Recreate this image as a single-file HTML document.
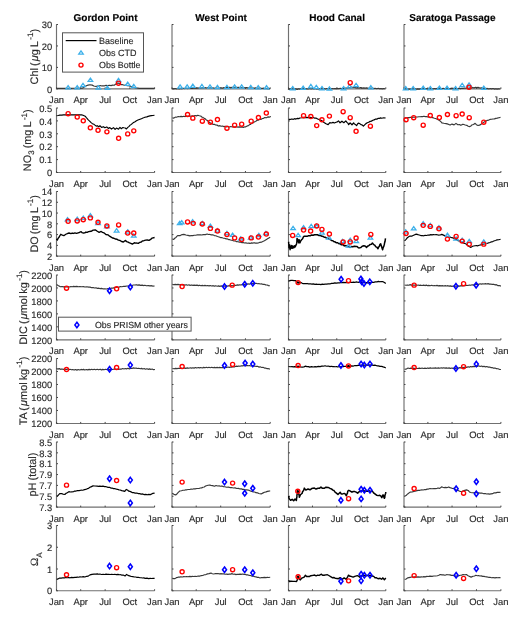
<!DOCTYPE html>
<html><head><meta charset="utf-8"><style>
html,body{margin:0;padding:0;background:#fff;}
svg{display:block;will-change:transform;text-rendering:geometricPrecision;font-family:"Liberation Sans",sans-serif;}
</style></head><body>
<svg width="520" height="618" viewBox="0 0 520 618">
<rect width="520" height="618" fill="#fff"/>
<path d="M56.50 24.20 V88.85 H154.60" fill="none" stroke="#707070" stroke-width="1.15"/>
<path d="M56.50 88.85 h1.5" stroke="#444" stroke-width="1"/>
<text x="52.20" y="92.55" font-size="9.40" text-anchor="end" font-weight="normal" fill="#2a2a2a" stroke="#2a2a2a" stroke-width="0.15" >0</text>
<path d="M56.50 67.40 h1.5" stroke="#444" stroke-width="1"/>
<text x="52.20" y="71.10" font-size="9.40" text-anchor="end" font-weight="normal" fill="#2a2a2a" stroke="#2a2a2a" stroke-width="0.15" >10</text>
<path d="M56.50 45.95 h1.5" stroke="#444" stroke-width="1"/>
<text x="52.20" y="49.65" font-size="9.40" text-anchor="end" font-weight="normal" fill="#2a2a2a" stroke="#2a2a2a" stroke-width="0.15" >20</text>
<path d="M56.50 24.50 h1.5" stroke="#444" stroke-width="1"/>
<text x="52.20" y="28.20" font-size="9.40" text-anchor="end" font-weight="normal" fill="#2a2a2a" stroke="#2a2a2a" stroke-width="0.15" >30</text>
<path d="M56.50 88.85 v-1.5" stroke="#444" stroke-width="1"/>
<text x="56.50" y="103.35" font-size="9.40" text-anchor="middle" font-weight="normal" fill="#2a2a2a" stroke="#2a2a2a" stroke-width="0.15" >Jan</text>
<path d="M80.69 88.85 v-1.5" stroke="#444" stroke-width="1"/>
<text x="80.69" y="103.35" font-size="9.40" text-anchor="middle" font-weight="normal" fill="#2a2a2a" stroke="#2a2a2a" stroke-width="0.15" >Apr</text>
<path d="M105.15 88.85 v-1.5" stroke="#444" stroke-width="1"/>
<text x="105.15" y="103.35" font-size="9.40" text-anchor="middle" font-weight="normal" fill="#2a2a2a" stroke="#2a2a2a" stroke-width="0.15" >Jul</text>
<path d="M129.87 88.85 v-1.5" stroke="#444" stroke-width="1"/>
<text x="129.87" y="103.35" font-size="9.40" text-anchor="middle" font-weight="normal" fill="#2a2a2a" stroke="#2a2a2a" stroke-width="0.15" >Oct</text>
<path d="M154.60 88.85 v-1.5" stroke="#444" stroke-width="1"/>
<text x="154.60" y="103.35" font-size="9.40" text-anchor="middle" font-weight="normal" fill="#2a2a2a" stroke="#2a2a2a" stroke-width="0.15" >Jan</text>
<path d="M172.00 24.20 V88.85 H270.20" fill="none" stroke="#707070" stroke-width="1.15"/>
<path d="M172.00 88.85 h1.5" stroke="#444" stroke-width="1"/>
<path d="M172.00 67.40 h1.5" stroke="#444" stroke-width="1"/>
<path d="M172.00 45.95 h1.5" stroke="#444" stroke-width="1"/>
<path d="M172.00 24.50 h1.5" stroke="#444" stroke-width="1"/>
<path d="M172.00 88.85 v-1.5" stroke="#444" stroke-width="1"/>
<text x="172.00" y="103.35" font-size="9.40" text-anchor="middle" font-weight="normal" fill="#2a2a2a" stroke="#2a2a2a" stroke-width="0.15" >Jan</text>
<path d="M196.21 88.85 v-1.5" stroke="#444" stroke-width="1"/>
<text x="196.21" y="103.35" font-size="9.40" text-anchor="middle" font-weight="normal" fill="#2a2a2a" stroke="#2a2a2a" stroke-width="0.15" >Apr</text>
<path d="M220.70 88.85 v-1.5" stroke="#444" stroke-width="1"/>
<text x="220.70" y="103.35" font-size="9.40" text-anchor="middle" font-weight="normal" fill="#2a2a2a" stroke="#2a2a2a" stroke-width="0.15" >Jul</text>
<path d="M245.45 88.85 v-1.5" stroke="#444" stroke-width="1"/>
<text x="245.45" y="103.35" font-size="9.40" text-anchor="middle" font-weight="normal" fill="#2a2a2a" stroke="#2a2a2a" stroke-width="0.15" >Oct</text>
<path d="M270.20 88.85 v-1.5" stroke="#444" stroke-width="1"/>
<text x="270.20" y="103.35" font-size="9.40" text-anchor="middle" font-weight="normal" fill="#2a2a2a" stroke="#2a2a2a" stroke-width="0.15" >Jan</text>
<path d="M288.50 24.20 V88.85 H385.80" fill="none" stroke="#707070" stroke-width="1.15"/>
<path d="M288.50 88.85 h1.5" stroke="#444" stroke-width="1"/>
<path d="M288.50 67.40 h1.5" stroke="#444" stroke-width="1"/>
<path d="M288.50 45.95 h1.5" stroke="#444" stroke-width="1"/>
<path d="M288.50 24.50 h1.5" stroke="#444" stroke-width="1"/>
<path d="M288.50 88.85 v-1.5" stroke="#444" stroke-width="1"/>
<text x="288.50" y="103.35" font-size="9.40" text-anchor="middle" font-weight="normal" fill="#2a2a2a" stroke="#2a2a2a" stroke-width="0.15" >Jan</text>
<path d="M312.49 88.85 v-1.5" stroke="#444" stroke-width="1"/>
<text x="312.49" y="103.35" font-size="9.40" text-anchor="middle" font-weight="normal" fill="#2a2a2a" stroke="#2a2a2a" stroke-width="0.15" >Apr</text>
<path d="M336.75 88.85 v-1.5" stroke="#444" stroke-width="1"/>
<text x="336.75" y="103.35" font-size="9.40" text-anchor="middle" font-weight="normal" fill="#2a2a2a" stroke="#2a2a2a" stroke-width="0.15" >Jul</text>
<path d="M361.28 88.85 v-1.5" stroke="#444" stroke-width="1"/>
<text x="361.28" y="103.35" font-size="9.40" text-anchor="middle" font-weight="normal" fill="#2a2a2a" stroke="#2a2a2a" stroke-width="0.15" >Oct</text>
<path d="M385.80 88.85 v-1.5" stroke="#444" stroke-width="1"/>
<text x="385.80" y="103.35" font-size="9.40" text-anchor="middle" font-weight="normal" fill="#2a2a2a" stroke="#2a2a2a" stroke-width="0.15" >Jan</text>
<path d="M404.00 24.20 V88.85 H500.90" fill="none" stroke="#707070" stroke-width="1.15"/>
<path d="M404.00 88.85 h1.5" stroke="#444" stroke-width="1"/>
<path d="M404.00 67.40 h1.5" stroke="#444" stroke-width="1"/>
<path d="M404.00 45.95 h1.5" stroke="#444" stroke-width="1"/>
<path d="M404.00 24.50 h1.5" stroke="#444" stroke-width="1"/>
<path d="M404.00 88.85 v-1.5" stroke="#444" stroke-width="1"/>
<text x="404.00" y="103.35" font-size="9.40" text-anchor="middle" font-weight="normal" fill="#2a2a2a" stroke="#2a2a2a" stroke-width="0.15" >Jan</text>
<path d="M427.89 88.85 v-1.5" stroke="#444" stroke-width="1"/>
<text x="427.89" y="103.35" font-size="9.40" text-anchor="middle" font-weight="normal" fill="#2a2a2a" stroke="#2a2a2a" stroke-width="0.15" >Apr</text>
<path d="M452.05 88.85 v-1.5" stroke="#444" stroke-width="1"/>
<text x="452.05" y="103.35" font-size="9.40" text-anchor="middle" font-weight="normal" fill="#2a2a2a" stroke="#2a2a2a" stroke-width="0.15" >Jul</text>
<path d="M476.48 88.85 v-1.5" stroke="#444" stroke-width="1"/>
<text x="476.48" y="103.35" font-size="9.40" text-anchor="middle" font-weight="normal" fill="#2a2a2a" stroke="#2a2a2a" stroke-width="0.15" >Oct</text>
<path d="M500.90 88.85 v-1.5" stroke="#444" stroke-width="1"/>
<text x="500.90" y="103.35" font-size="9.40" text-anchor="middle" font-weight="normal" fill="#2a2a2a" stroke="#2a2a2a" stroke-width="0.15" >Jan</text>
<path d="M56.50 107.70 V172.50 H154.60" fill="none" stroke="#707070" stroke-width="1.15"/>
<path d="M56.50 172.50 h1.5" stroke="#444" stroke-width="1"/>
<text x="52.20" y="176.20" font-size="9.40" text-anchor="end" font-weight="normal" fill="#2a2a2a" stroke="#2a2a2a" stroke-width="0.15" >0</text>
<path d="M56.50 159.60 h1.5" stroke="#444" stroke-width="1"/>
<text x="52.20" y="163.30" font-size="9.40" text-anchor="end" font-weight="normal" fill="#2a2a2a" stroke="#2a2a2a" stroke-width="0.15" >0.1</text>
<path d="M56.50 146.70 h1.5" stroke="#444" stroke-width="1"/>
<text x="52.20" y="150.40" font-size="9.40" text-anchor="end" font-weight="normal" fill="#2a2a2a" stroke="#2a2a2a" stroke-width="0.15" >0.2</text>
<path d="M56.50 133.80 h1.5" stroke="#444" stroke-width="1"/>
<text x="52.20" y="137.50" font-size="9.40" text-anchor="end" font-weight="normal" fill="#2a2a2a" stroke="#2a2a2a" stroke-width="0.15" >0.3</text>
<path d="M56.50 120.90 h1.5" stroke="#444" stroke-width="1"/>
<text x="52.20" y="124.60" font-size="9.40" text-anchor="end" font-weight="normal" fill="#2a2a2a" stroke="#2a2a2a" stroke-width="0.15" >0.4</text>
<path d="M56.50 108.00 h1.5" stroke="#444" stroke-width="1"/>
<text x="52.20" y="111.70" font-size="9.40" text-anchor="end" font-weight="normal" fill="#2a2a2a" stroke="#2a2a2a" stroke-width="0.15" >0.5</text>
<path d="M56.50 172.50 v-1.5" stroke="#444" stroke-width="1"/>
<text x="56.50" y="187.00" font-size="9.40" text-anchor="middle" font-weight="normal" fill="#2a2a2a" stroke="#2a2a2a" stroke-width="0.15" >Jan</text>
<path d="M80.69 172.50 v-1.5" stroke="#444" stroke-width="1"/>
<text x="80.69" y="187.00" font-size="9.40" text-anchor="middle" font-weight="normal" fill="#2a2a2a" stroke="#2a2a2a" stroke-width="0.15" >Apr</text>
<path d="M105.15 172.50 v-1.5" stroke="#444" stroke-width="1"/>
<text x="105.15" y="187.00" font-size="9.40" text-anchor="middle" font-weight="normal" fill="#2a2a2a" stroke="#2a2a2a" stroke-width="0.15" >Jul</text>
<path d="M129.87 172.50 v-1.5" stroke="#444" stroke-width="1"/>
<text x="129.87" y="187.00" font-size="9.40" text-anchor="middle" font-weight="normal" fill="#2a2a2a" stroke="#2a2a2a" stroke-width="0.15" >Oct</text>
<path d="M154.60 172.50 v-1.5" stroke="#444" stroke-width="1"/>
<text x="154.60" y="187.00" font-size="9.40" text-anchor="middle" font-weight="normal" fill="#2a2a2a" stroke="#2a2a2a" stroke-width="0.15" >Jan</text>
<path d="M172.00 107.70 V172.50 H270.20" fill="none" stroke="#707070" stroke-width="1.15"/>
<path d="M172.00 172.50 h1.5" stroke="#444" stroke-width="1"/>
<path d="M172.00 159.60 h1.5" stroke="#444" stroke-width="1"/>
<path d="M172.00 146.70 h1.5" stroke="#444" stroke-width="1"/>
<path d="M172.00 133.80 h1.5" stroke="#444" stroke-width="1"/>
<path d="M172.00 120.90 h1.5" stroke="#444" stroke-width="1"/>
<path d="M172.00 108.00 h1.5" stroke="#444" stroke-width="1"/>
<path d="M172.00 172.50 v-1.5" stroke="#444" stroke-width="1"/>
<text x="172.00" y="187.00" font-size="9.40" text-anchor="middle" font-weight="normal" fill="#2a2a2a" stroke="#2a2a2a" stroke-width="0.15" >Jan</text>
<path d="M196.21 172.50 v-1.5" stroke="#444" stroke-width="1"/>
<text x="196.21" y="187.00" font-size="9.40" text-anchor="middle" font-weight="normal" fill="#2a2a2a" stroke="#2a2a2a" stroke-width="0.15" >Apr</text>
<path d="M220.70 172.50 v-1.5" stroke="#444" stroke-width="1"/>
<text x="220.70" y="187.00" font-size="9.40" text-anchor="middle" font-weight="normal" fill="#2a2a2a" stroke="#2a2a2a" stroke-width="0.15" >Jul</text>
<path d="M245.45 172.50 v-1.5" stroke="#444" stroke-width="1"/>
<text x="245.45" y="187.00" font-size="9.40" text-anchor="middle" font-weight="normal" fill="#2a2a2a" stroke="#2a2a2a" stroke-width="0.15" >Oct</text>
<path d="M270.20 172.50 v-1.5" stroke="#444" stroke-width="1"/>
<text x="270.20" y="187.00" font-size="9.40" text-anchor="middle" font-weight="normal" fill="#2a2a2a" stroke="#2a2a2a" stroke-width="0.15" >Jan</text>
<path d="M288.50 107.70 V172.50 H385.80" fill="none" stroke="#707070" stroke-width="1.15"/>
<path d="M288.50 172.50 h1.5" stroke="#444" stroke-width="1"/>
<path d="M288.50 159.60 h1.5" stroke="#444" stroke-width="1"/>
<path d="M288.50 146.70 h1.5" stroke="#444" stroke-width="1"/>
<path d="M288.50 133.80 h1.5" stroke="#444" stroke-width="1"/>
<path d="M288.50 120.90 h1.5" stroke="#444" stroke-width="1"/>
<path d="M288.50 108.00 h1.5" stroke="#444" stroke-width="1"/>
<path d="M288.50 172.50 v-1.5" stroke="#444" stroke-width="1"/>
<text x="288.50" y="187.00" font-size="9.40" text-anchor="middle" font-weight="normal" fill="#2a2a2a" stroke="#2a2a2a" stroke-width="0.15" >Jan</text>
<path d="M312.49 172.50 v-1.5" stroke="#444" stroke-width="1"/>
<text x="312.49" y="187.00" font-size="9.40" text-anchor="middle" font-weight="normal" fill="#2a2a2a" stroke="#2a2a2a" stroke-width="0.15" >Apr</text>
<path d="M336.75 172.50 v-1.5" stroke="#444" stroke-width="1"/>
<text x="336.75" y="187.00" font-size="9.40" text-anchor="middle" font-weight="normal" fill="#2a2a2a" stroke="#2a2a2a" stroke-width="0.15" >Jul</text>
<path d="M361.28 172.50 v-1.5" stroke="#444" stroke-width="1"/>
<text x="361.28" y="187.00" font-size="9.40" text-anchor="middle" font-weight="normal" fill="#2a2a2a" stroke="#2a2a2a" stroke-width="0.15" >Oct</text>
<path d="M385.80 172.50 v-1.5" stroke="#444" stroke-width="1"/>
<text x="385.80" y="187.00" font-size="9.40" text-anchor="middle" font-weight="normal" fill="#2a2a2a" stroke="#2a2a2a" stroke-width="0.15" >Jan</text>
<path d="M404.00 107.70 V172.50 H500.90" fill="none" stroke="#707070" stroke-width="1.15"/>
<path d="M404.00 172.50 h1.5" stroke="#444" stroke-width="1"/>
<path d="M404.00 159.60 h1.5" stroke="#444" stroke-width="1"/>
<path d="M404.00 146.70 h1.5" stroke="#444" stroke-width="1"/>
<path d="M404.00 133.80 h1.5" stroke="#444" stroke-width="1"/>
<path d="M404.00 120.90 h1.5" stroke="#444" stroke-width="1"/>
<path d="M404.00 108.00 h1.5" stroke="#444" stroke-width="1"/>
<path d="M404.00 172.50 v-1.5" stroke="#444" stroke-width="1"/>
<text x="404.00" y="187.00" font-size="9.40" text-anchor="middle" font-weight="normal" fill="#2a2a2a" stroke="#2a2a2a" stroke-width="0.15" >Jan</text>
<path d="M427.89 172.50 v-1.5" stroke="#444" stroke-width="1"/>
<text x="427.89" y="187.00" font-size="9.40" text-anchor="middle" font-weight="normal" fill="#2a2a2a" stroke="#2a2a2a" stroke-width="0.15" >Apr</text>
<path d="M452.05 172.50 v-1.5" stroke="#444" stroke-width="1"/>
<text x="452.05" y="187.00" font-size="9.40" text-anchor="middle" font-weight="normal" fill="#2a2a2a" stroke="#2a2a2a" stroke-width="0.15" >Jul</text>
<path d="M476.48 172.50 v-1.5" stroke="#444" stroke-width="1"/>
<text x="476.48" y="187.00" font-size="9.40" text-anchor="middle" font-weight="normal" fill="#2a2a2a" stroke="#2a2a2a" stroke-width="0.15" >Oct</text>
<path d="M500.90 172.50 v-1.5" stroke="#444" stroke-width="1"/>
<text x="500.90" y="187.00" font-size="9.40" text-anchor="middle" font-weight="normal" fill="#2a2a2a" stroke="#2a2a2a" stroke-width="0.15" >Jan</text>
<path d="M56.50 191.20 V256.15 H154.60" fill="none" stroke="#707070" stroke-width="1.15"/>
<path d="M56.50 256.15 h1.5" stroke="#444" stroke-width="1"/>
<text x="52.20" y="259.85" font-size="9.40" text-anchor="end" font-weight="normal" fill="#2a2a2a" stroke="#2a2a2a" stroke-width="0.15" >2</text>
<path d="M56.50 245.37 h1.5" stroke="#444" stroke-width="1"/>
<text x="52.20" y="249.07" font-size="9.40" text-anchor="end" font-weight="normal" fill="#2a2a2a" stroke="#2a2a2a" stroke-width="0.15" >4</text>
<path d="M56.50 234.60 h1.5" stroke="#444" stroke-width="1"/>
<text x="52.20" y="238.30" font-size="9.40" text-anchor="end" font-weight="normal" fill="#2a2a2a" stroke="#2a2a2a" stroke-width="0.15" >6</text>
<path d="M56.50 223.82 h1.5" stroke="#444" stroke-width="1"/>
<text x="52.20" y="227.52" font-size="9.40" text-anchor="end" font-weight="normal" fill="#2a2a2a" stroke="#2a2a2a" stroke-width="0.15" >8</text>
<path d="M56.50 213.05 h1.5" stroke="#444" stroke-width="1"/>
<text x="52.20" y="216.75" font-size="9.40" text-anchor="end" font-weight="normal" fill="#2a2a2a" stroke="#2a2a2a" stroke-width="0.15" >10</text>
<path d="M56.50 202.28 h1.5" stroke="#444" stroke-width="1"/>
<text x="52.20" y="205.97" font-size="9.40" text-anchor="end" font-weight="normal" fill="#2a2a2a" stroke="#2a2a2a" stroke-width="0.15" >12</text>
<path d="M56.50 191.50 h1.5" stroke="#444" stroke-width="1"/>
<text x="52.20" y="195.20" font-size="9.40" text-anchor="end" font-weight="normal" fill="#2a2a2a" stroke="#2a2a2a" stroke-width="0.15" >14</text>
<path d="M56.50 256.15 v-1.5" stroke="#444" stroke-width="1"/>
<text x="56.50" y="270.65" font-size="9.40" text-anchor="middle" font-weight="normal" fill="#2a2a2a" stroke="#2a2a2a" stroke-width="0.15" >Jan</text>
<path d="M80.69 256.15 v-1.5" stroke="#444" stroke-width="1"/>
<text x="80.69" y="270.65" font-size="9.40" text-anchor="middle" font-weight="normal" fill="#2a2a2a" stroke="#2a2a2a" stroke-width="0.15" >Apr</text>
<path d="M105.15 256.15 v-1.5" stroke="#444" stroke-width="1"/>
<text x="105.15" y="270.65" font-size="9.40" text-anchor="middle" font-weight="normal" fill="#2a2a2a" stroke="#2a2a2a" stroke-width="0.15" >Jul</text>
<path d="M129.87 256.15 v-1.5" stroke="#444" stroke-width="1"/>
<text x="129.87" y="270.65" font-size="9.40" text-anchor="middle" font-weight="normal" fill="#2a2a2a" stroke="#2a2a2a" stroke-width="0.15" >Oct</text>
<path d="M154.60 256.15 v-1.5" stroke="#444" stroke-width="1"/>
<text x="154.60" y="270.65" font-size="9.40" text-anchor="middle" font-weight="normal" fill="#2a2a2a" stroke="#2a2a2a" stroke-width="0.15" >Jan</text>
<path d="M172.00 191.20 V256.15 H270.20" fill="none" stroke="#707070" stroke-width="1.15"/>
<path d="M172.00 256.15 h1.5" stroke="#444" stroke-width="1"/>
<path d="M172.00 245.37 h1.5" stroke="#444" stroke-width="1"/>
<path d="M172.00 234.60 h1.5" stroke="#444" stroke-width="1"/>
<path d="M172.00 223.82 h1.5" stroke="#444" stroke-width="1"/>
<path d="M172.00 213.05 h1.5" stroke="#444" stroke-width="1"/>
<path d="M172.00 202.28 h1.5" stroke="#444" stroke-width="1"/>
<path d="M172.00 191.50 h1.5" stroke="#444" stroke-width="1"/>
<path d="M172.00 256.15 v-1.5" stroke="#444" stroke-width="1"/>
<text x="172.00" y="270.65" font-size="9.40" text-anchor="middle" font-weight="normal" fill="#2a2a2a" stroke="#2a2a2a" stroke-width="0.15" >Jan</text>
<path d="M196.21 256.15 v-1.5" stroke="#444" stroke-width="1"/>
<text x="196.21" y="270.65" font-size="9.40" text-anchor="middle" font-weight="normal" fill="#2a2a2a" stroke="#2a2a2a" stroke-width="0.15" >Apr</text>
<path d="M220.70 256.15 v-1.5" stroke="#444" stroke-width="1"/>
<text x="220.70" y="270.65" font-size="9.40" text-anchor="middle" font-weight="normal" fill="#2a2a2a" stroke="#2a2a2a" stroke-width="0.15" >Jul</text>
<path d="M245.45 256.15 v-1.5" stroke="#444" stroke-width="1"/>
<text x="245.45" y="270.65" font-size="9.40" text-anchor="middle" font-weight="normal" fill="#2a2a2a" stroke="#2a2a2a" stroke-width="0.15" >Oct</text>
<path d="M270.20 256.15 v-1.5" stroke="#444" stroke-width="1"/>
<text x="270.20" y="270.65" font-size="9.40" text-anchor="middle" font-weight="normal" fill="#2a2a2a" stroke="#2a2a2a" stroke-width="0.15" >Jan</text>
<path d="M288.50 191.20 V256.15 H385.80" fill="none" stroke="#707070" stroke-width="1.15"/>
<path d="M288.50 256.15 h1.5" stroke="#444" stroke-width="1"/>
<path d="M288.50 245.37 h1.5" stroke="#444" stroke-width="1"/>
<path d="M288.50 234.60 h1.5" stroke="#444" stroke-width="1"/>
<path d="M288.50 223.82 h1.5" stroke="#444" stroke-width="1"/>
<path d="M288.50 213.05 h1.5" stroke="#444" stroke-width="1"/>
<path d="M288.50 202.28 h1.5" stroke="#444" stroke-width="1"/>
<path d="M288.50 191.50 h1.5" stroke="#444" stroke-width="1"/>
<path d="M288.50 256.15 v-1.5" stroke="#444" stroke-width="1"/>
<text x="288.50" y="270.65" font-size="9.40" text-anchor="middle" font-weight="normal" fill="#2a2a2a" stroke="#2a2a2a" stroke-width="0.15" >Jan</text>
<path d="M312.49 256.15 v-1.5" stroke="#444" stroke-width="1"/>
<text x="312.49" y="270.65" font-size="9.40" text-anchor="middle" font-weight="normal" fill="#2a2a2a" stroke="#2a2a2a" stroke-width="0.15" >Apr</text>
<path d="M336.75 256.15 v-1.5" stroke="#444" stroke-width="1"/>
<text x="336.75" y="270.65" font-size="9.40" text-anchor="middle" font-weight="normal" fill="#2a2a2a" stroke="#2a2a2a" stroke-width="0.15" >Jul</text>
<path d="M361.28 256.15 v-1.5" stroke="#444" stroke-width="1"/>
<text x="361.28" y="270.65" font-size="9.40" text-anchor="middle" font-weight="normal" fill="#2a2a2a" stroke="#2a2a2a" stroke-width="0.15" >Oct</text>
<path d="M385.80 256.15 v-1.5" stroke="#444" stroke-width="1"/>
<text x="385.80" y="270.65" font-size="9.40" text-anchor="middle" font-weight="normal" fill="#2a2a2a" stroke="#2a2a2a" stroke-width="0.15" >Jan</text>
<path d="M404.00 191.20 V256.15 H500.90" fill="none" stroke="#707070" stroke-width="1.15"/>
<path d="M404.00 256.15 h1.5" stroke="#444" stroke-width="1"/>
<path d="M404.00 245.37 h1.5" stroke="#444" stroke-width="1"/>
<path d="M404.00 234.60 h1.5" stroke="#444" stroke-width="1"/>
<path d="M404.00 223.82 h1.5" stroke="#444" stroke-width="1"/>
<path d="M404.00 213.05 h1.5" stroke="#444" stroke-width="1"/>
<path d="M404.00 202.28 h1.5" stroke="#444" stroke-width="1"/>
<path d="M404.00 191.50 h1.5" stroke="#444" stroke-width="1"/>
<path d="M404.00 256.15 v-1.5" stroke="#444" stroke-width="1"/>
<text x="404.00" y="270.65" font-size="9.40" text-anchor="middle" font-weight="normal" fill="#2a2a2a" stroke="#2a2a2a" stroke-width="0.15" >Jan</text>
<path d="M427.89 256.15 v-1.5" stroke="#444" stroke-width="1"/>
<text x="427.89" y="270.65" font-size="9.40" text-anchor="middle" font-weight="normal" fill="#2a2a2a" stroke="#2a2a2a" stroke-width="0.15" >Apr</text>
<path d="M452.05 256.15 v-1.5" stroke="#444" stroke-width="1"/>
<text x="452.05" y="270.65" font-size="9.40" text-anchor="middle" font-weight="normal" fill="#2a2a2a" stroke="#2a2a2a" stroke-width="0.15" >Jul</text>
<path d="M476.48 256.15 v-1.5" stroke="#444" stroke-width="1"/>
<text x="476.48" y="270.65" font-size="9.40" text-anchor="middle" font-weight="normal" fill="#2a2a2a" stroke="#2a2a2a" stroke-width="0.15" >Oct</text>
<path d="M500.90 256.15 v-1.5" stroke="#444" stroke-width="1"/>
<text x="500.90" y="270.65" font-size="9.40" text-anchor="middle" font-weight="normal" fill="#2a2a2a" stroke="#2a2a2a" stroke-width="0.15" >Jan</text>
<path d="M56.50 274.70 V339.80 H154.60" fill="none" stroke="#707070" stroke-width="1.15"/>
<path d="M56.50 339.80 h1.5" stroke="#444" stroke-width="1"/>
<text x="52.20" y="343.50" font-size="9.40" text-anchor="end" font-weight="normal" fill="#2a2a2a" stroke="#2a2a2a" stroke-width="0.15" >1200</text>
<path d="M56.50 326.84 h1.5" stroke="#444" stroke-width="1"/>
<text x="52.20" y="330.54" font-size="9.40" text-anchor="end" font-weight="normal" fill="#2a2a2a" stroke="#2a2a2a" stroke-width="0.15" >1400</text>
<path d="M56.50 313.88 h1.5" stroke="#444" stroke-width="1"/>
<text x="52.20" y="317.58" font-size="9.40" text-anchor="end" font-weight="normal" fill="#2a2a2a" stroke="#2a2a2a" stroke-width="0.15" >1600</text>
<path d="M56.50 300.92 h1.5" stroke="#444" stroke-width="1"/>
<text x="52.20" y="304.62" font-size="9.40" text-anchor="end" font-weight="normal" fill="#2a2a2a" stroke="#2a2a2a" stroke-width="0.15" >1800</text>
<path d="M56.50 287.96 h1.5" stroke="#444" stroke-width="1"/>
<text x="52.20" y="291.66" font-size="9.40" text-anchor="end" font-weight="normal" fill="#2a2a2a" stroke="#2a2a2a" stroke-width="0.15" >2000</text>
<path d="M56.50 275.00 h1.5" stroke="#444" stroke-width="1"/>
<text x="52.20" y="278.70" font-size="9.40" text-anchor="end" font-weight="normal" fill="#2a2a2a" stroke="#2a2a2a" stroke-width="0.15" >2200</text>
<path d="M56.50 339.80 v-1.5" stroke="#444" stroke-width="1"/>
<text x="56.50" y="354.30" font-size="9.40" text-anchor="middle" font-weight="normal" fill="#2a2a2a" stroke="#2a2a2a" stroke-width="0.15" >Jan</text>
<path d="M80.69 339.80 v-1.5" stroke="#444" stroke-width="1"/>
<text x="80.69" y="354.30" font-size="9.40" text-anchor="middle" font-weight="normal" fill="#2a2a2a" stroke="#2a2a2a" stroke-width="0.15" >Apr</text>
<path d="M105.15 339.80 v-1.5" stroke="#444" stroke-width="1"/>
<text x="105.15" y="354.30" font-size="9.40" text-anchor="middle" font-weight="normal" fill="#2a2a2a" stroke="#2a2a2a" stroke-width="0.15" >Jul</text>
<path d="M129.87 339.80 v-1.5" stroke="#444" stroke-width="1"/>
<text x="129.87" y="354.30" font-size="9.40" text-anchor="middle" font-weight="normal" fill="#2a2a2a" stroke="#2a2a2a" stroke-width="0.15" >Oct</text>
<path d="M154.60 339.80 v-1.5" stroke="#444" stroke-width="1"/>
<text x="154.60" y="354.30" font-size="9.40" text-anchor="middle" font-weight="normal" fill="#2a2a2a" stroke="#2a2a2a" stroke-width="0.15" >Jan</text>
<path d="M172.00 274.70 V339.80 H270.20" fill="none" stroke="#707070" stroke-width="1.15"/>
<path d="M172.00 339.80 h1.5" stroke="#444" stroke-width="1"/>
<path d="M172.00 326.84 h1.5" stroke="#444" stroke-width="1"/>
<path d="M172.00 313.88 h1.5" stroke="#444" stroke-width="1"/>
<path d="M172.00 300.92 h1.5" stroke="#444" stroke-width="1"/>
<path d="M172.00 287.96 h1.5" stroke="#444" stroke-width="1"/>
<path d="M172.00 275.00 h1.5" stroke="#444" stroke-width="1"/>
<path d="M172.00 339.80 v-1.5" stroke="#444" stroke-width="1"/>
<text x="172.00" y="354.30" font-size="9.40" text-anchor="middle" font-weight="normal" fill="#2a2a2a" stroke="#2a2a2a" stroke-width="0.15" >Jan</text>
<path d="M196.21 339.80 v-1.5" stroke="#444" stroke-width="1"/>
<text x="196.21" y="354.30" font-size="9.40" text-anchor="middle" font-weight="normal" fill="#2a2a2a" stroke="#2a2a2a" stroke-width="0.15" >Apr</text>
<path d="M220.70 339.80 v-1.5" stroke="#444" stroke-width="1"/>
<text x="220.70" y="354.30" font-size="9.40" text-anchor="middle" font-weight="normal" fill="#2a2a2a" stroke="#2a2a2a" stroke-width="0.15" >Jul</text>
<path d="M245.45 339.80 v-1.5" stroke="#444" stroke-width="1"/>
<text x="245.45" y="354.30" font-size="9.40" text-anchor="middle" font-weight="normal" fill="#2a2a2a" stroke="#2a2a2a" stroke-width="0.15" >Oct</text>
<path d="M270.20 339.80 v-1.5" stroke="#444" stroke-width="1"/>
<text x="270.20" y="354.30" font-size="9.40" text-anchor="middle" font-weight="normal" fill="#2a2a2a" stroke="#2a2a2a" stroke-width="0.15" >Jan</text>
<path d="M288.50 274.70 V339.80 H385.80" fill="none" stroke="#707070" stroke-width="1.15"/>
<path d="M288.50 339.80 h1.5" stroke="#444" stroke-width="1"/>
<path d="M288.50 326.84 h1.5" stroke="#444" stroke-width="1"/>
<path d="M288.50 313.88 h1.5" stroke="#444" stroke-width="1"/>
<path d="M288.50 300.92 h1.5" stroke="#444" stroke-width="1"/>
<path d="M288.50 287.96 h1.5" stroke="#444" stroke-width="1"/>
<path d="M288.50 275.00 h1.5" stroke="#444" stroke-width="1"/>
<path d="M288.50 339.80 v-1.5" stroke="#444" stroke-width="1"/>
<text x="288.50" y="354.30" font-size="9.40" text-anchor="middle" font-weight="normal" fill="#2a2a2a" stroke="#2a2a2a" stroke-width="0.15" >Jan</text>
<path d="M312.49 339.80 v-1.5" stroke="#444" stroke-width="1"/>
<text x="312.49" y="354.30" font-size="9.40" text-anchor="middle" font-weight="normal" fill="#2a2a2a" stroke="#2a2a2a" stroke-width="0.15" >Apr</text>
<path d="M336.75 339.80 v-1.5" stroke="#444" stroke-width="1"/>
<text x="336.75" y="354.30" font-size="9.40" text-anchor="middle" font-weight="normal" fill="#2a2a2a" stroke="#2a2a2a" stroke-width="0.15" >Jul</text>
<path d="M361.28 339.80 v-1.5" stroke="#444" stroke-width="1"/>
<text x="361.28" y="354.30" font-size="9.40" text-anchor="middle" font-weight="normal" fill="#2a2a2a" stroke="#2a2a2a" stroke-width="0.15" >Oct</text>
<path d="M385.80 339.80 v-1.5" stroke="#444" stroke-width="1"/>
<text x="385.80" y="354.30" font-size="9.40" text-anchor="middle" font-weight="normal" fill="#2a2a2a" stroke="#2a2a2a" stroke-width="0.15" >Jan</text>
<path d="M404.00 274.70 V339.80 H500.90" fill="none" stroke="#707070" stroke-width="1.15"/>
<path d="M404.00 339.80 h1.5" stroke="#444" stroke-width="1"/>
<path d="M404.00 326.84 h1.5" stroke="#444" stroke-width="1"/>
<path d="M404.00 313.88 h1.5" stroke="#444" stroke-width="1"/>
<path d="M404.00 300.92 h1.5" stroke="#444" stroke-width="1"/>
<path d="M404.00 287.96 h1.5" stroke="#444" stroke-width="1"/>
<path d="M404.00 275.00 h1.5" stroke="#444" stroke-width="1"/>
<path d="M404.00 339.80 v-1.5" stroke="#444" stroke-width="1"/>
<text x="404.00" y="354.30" font-size="9.40" text-anchor="middle" font-weight="normal" fill="#2a2a2a" stroke="#2a2a2a" stroke-width="0.15" >Jan</text>
<path d="M427.89 339.80 v-1.5" stroke="#444" stroke-width="1"/>
<text x="427.89" y="354.30" font-size="9.40" text-anchor="middle" font-weight="normal" fill="#2a2a2a" stroke="#2a2a2a" stroke-width="0.15" >Apr</text>
<path d="M452.05 339.80 v-1.5" stroke="#444" stroke-width="1"/>
<text x="452.05" y="354.30" font-size="9.40" text-anchor="middle" font-weight="normal" fill="#2a2a2a" stroke="#2a2a2a" stroke-width="0.15" >Jul</text>
<path d="M476.48 339.80 v-1.5" stroke="#444" stroke-width="1"/>
<text x="476.48" y="354.30" font-size="9.40" text-anchor="middle" font-weight="normal" fill="#2a2a2a" stroke="#2a2a2a" stroke-width="0.15" >Oct</text>
<path d="M500.90 339.80 v-1.5" stroke="#444" stroke-width="1"/>
<text x="500.90" y="354.30" font-size="9.40" text-anchor="middle" font-weight="normal" fill="#2a2a2a" stroke="#2a2a2a" stroke-width="0.15" >Jan</text>
<path d="M56.50 358.20 V423.45 H154.60" fill="none" stroke="#707070" stroke-width="1.15"/>
<path d="M56.50 423.45 h1.5" stroke="#444" stroke-width="1"/>
<text x="52.20" y="427.15" font-size="9.40" text-anchor="end" font-weight="normal" fill="#2a2a2a" stroke="#2a2a2a" stroke-width="0.15" >1200</text>
<path d="M56.50 410.46 h1.5" stroke="#444" stroke-width="1"/>
<text x="52.20" y="414.16" font-size="9.40" text-anchor="end" font-weight="normal" fill="#2a2a2a" stroke="#2a2a2a" stroke-width="0.15" >1400</text>
<path d="M56.50 397.47 h1.5" stroke="#444" stroke-width="1"/>
<text x="52.20" y="401.17" font-size="9.40" text-anchor="end" font-weight="normal" fill="#2a2a2a" stroke="#2a2a2a" stroke-width="0.15" >1600</text>
<path d="M56.50 384.48 h1.5" stroke="#444" stroke-width="1"/>
<text x="52.20" y="388.18" font-size="9.40" text-anchor="end" font-weight="normal" fill="#2a2a2a" stroke="#2a2a2a" stroke-width="0.15" >1800</text>
<path d="M56.50 371.49 h1.5" stroke="#444" stroke-width="1"/>
<text x="52.20" y="375.19" font-size="9.40" text-anchor="end" font-weight="normal" fill="#2a2a2a" stroke="#2a2a2a" stroke-width="0.15" >2000</text>
<path d="M56.50 358.50 h1.5" stroke="#444" stroke-width="1"/>
<text x="52.20" y="362.20" font-size="9.40" text-anchor="end" font-weight="normal" fill="#2a2a2a" stroke="#2a2a2a" stroke-width="0.15" >2200</text>
<path d="M56.50 423.45 v-1.5" stroke="#444" stroke-width="1"/>
<text x="56.50" y="437.95" font-size="9.40" text-anchor="middle" font-weight="normal" fill="#2a2a2a" stroke="#2a2a2a" stroke-width="0.15" >Jan</text>
<path d="M80.69 423.45 v-1.5" stroke="#444" stroke-width="1"/>
<text x="80.69" y="437.95" font-size="9.40" text-anchor="middle" font-weight="normal" fill="#2a2a2a" stroke="#2a2a2a" stroke-width="0.15" >Apr</text>
<path d="M105.15 423.45 v-1.5" stroke="#444" stroke-width="1"/>
<text x="105.15" y="437.95" font-size="9.40" text-anchor="middle" font-weight="normal" fill="#2a2a2a" stroke="#2a2a2a" stroke-width="0.15" >Jul</text>
<path d="M129.87 423.45 v-1.5" stroke="#444" stroke-width="1"/>
<text x="129.87" y="437.95" font-size="9.40" text-anchor="middle" font-weight="normal" fill="#2a2a2a" stroke="#2a2a2a" stroke-width="0.15" >Oct</text>
<path d="M154.60 423.45 v-1.5" stroke="#444" stroke-width="1"/>
<text x="154.60" y="437.95" font-size="9.40" text-anchor="middle" font-weight="normal" fill="#2a2a2a" stroke="#2a2a2a" stroke-width="0.15" >Jan</text>
<path d="M172.00 358.20 V423.45 H270.20" fill="none" stroke="#707070" stroke-width="1.15"/>
<path d="M172.00 423.45 h1.5" stroke="#444" stroke-width="1"/>
<path d="M172.00 410.46 h1.5" stroke="#444" stroke-width="1"/>
<path d="M172.00 397.47 h1.5" stroke="#444" stroke-width="1"/>
<path d="M172.00 384.48 h1.5" stroke="#444" stroke-width="1"/>
<path d="M172.00 371.49 h1.5" stroke="#444" stroke-width="1"/>
<path d="M172.00 358.50 h1.5" stroke="#444" stroke-width="1"/>
<path d="M172.00 423.45 v-1.5" stroke="#444" stroke-width="1"/>
<text x="172.00" y="437.95" font-size="9.40" text-anchor="middle" font-weight="normal" fill="#2a2a2a" stroke="#2a2a2a" stroke-width="0.15" >Jan</text>
<path d="M196.21 423.45 v-1.5" stroke="#444" stroke-width="1"/>
<text x="196.21" y="437.95" font-size="9.40" text-anchor="middle" font-weight="normal" fill="#2a2a2a" stroke="#2a2a2a" stroke-width="0.15" >Apr</text>
<path d="M220.70 423.45 v-1.5" stroke="#444" stroke-width="1"/>
<text x="220.70" y="437.95" font-size="9.40" text-anchor="middle" font-weight="normal" fill="#2a2a2a" stroke="#2a2a2a" stroke-width="0.15" >Jul</text>
<path d="M245.45 423.45 v-1.5" stroke="#444" stroke-width="1"/>
<text x="245.45" y="437.95" font-size="9.40" text-anchor="middle" font-weight="normal" fill="#2a2a2a" stroke="#2a2a2a" stroke-width="0.15" >Oct</text>
<path d="M270.20 423.45 v-1.5" stroke="#444" stroke-width="1"/>
<text x="270.20" y="437.95" font-size="9.40" text-anchor="middle" font-weight="normal" fill="#2a2a2a" stroke="#2a2a2a" stroke-width="0.15" >Jan</text>
<path d="M288.50 358.20 V423.45 H385.80" fill="none" stroke="#707070" stroke-width="1.15"/>
<path d="M288.50 423.45 h1.5" stroke="#444" stroke-width="1"/>
<path d="M288.50 410.46 h1.5" stroke="#444" stroke-width="1"/>
<path d="M288.50 397.47 h1.5" stroke="#444" stroke-width="1"/>
<path d="M288.50 384.48 h1.5" stroke="#444" stroke-width="1"/>
<path d="M288.50 371.49 h1.5" stroke="#444" stroke-width="1"/>
<path d="M288.50 358.50 h1.5" stroke="#444" stroke-width="1"/>
<path d="M288.50 423.45 v-1.5" stroke="#444" stroke-width="1"/>
<text x="288.50" y="437.95" font-size="9.40" text-anchor="middle" font-weight="normal" fill="#2a2a2a" stroke="#2a2a2a" stroke-width="0.15" >Jan</text>
<path d="M312.49 423.45 v-1.5" stroke="#444" stroke-width="1"/>
<text x="312.49" y="437.95" font-size="9.40" text-anchor="middle" font-weight="normal" fill="#2a2a2a" stroke="#2a2a2a" stroke-width="0.15" >Apr</text>
<path d="M336.75 423.45 v-1.5" stroke="#444" stroke-width="1"/>
<text x="336.75" y="437.95" font-size="9.40" text-anchor="middle" font-weight="normal" fill="#2a2a2a" stroke="#2a2a2a" stroke-width="0.15" >Jul</text>
<path d="M361.28 423.45 v-1.5" stroke="#444" stroke-width="1"/>
<text x="361.28" y="437.95" font-size="9.40" text-anchor="middle" font-weight="normal" fill="#2a2a2a" stroke="#2a2a2a" stroke-width="0.15" >Oct</text>
<path d="M385.80 423.45 v-1.5" stroke="#444" stroke-width="1"/>
<text x="385.80" y="437.95" font-size="9.40" text-anchor="middle" font-weight="normal" fill="#2a2a2a" stroke="#2a2a2a" stroke-width="0.15" >Jan</text>
<path d="M404.00 358.20 V423.45 H500.90" fill="none" stroke="#707070" stroke-width="1.15"/>
<path d="M404.00 423.45 h1.5" stroke="#444" stroke-width="1"/>
<path d="M404.00 410.46 h1.5" stroke="#444" stroke-width="1"/>
<path d="M404.00 397.47 h1.5" stroke="#444" stroke-width="1"/>
<path d="M404.00 384.48 h1.5" stroke="#444" stroke-width="1"/>
<path d="M404.00 371.49 h1.5" stroke="#444" stroke-width="1"/>
<path d="M404.00 358.50 h1.5" stroke="#444" stroke-width="1"/>
<path d="M404.00 423.45 v-1.5" stroke="#444" stroke-width="1"/>
<text x="404.00" y="437.95" font-size="9.40" text-anchor="middle" font-weight="normal" fill="#2a2a2a" stroke="#2a2a2a" stroke-width="0.15" >Jan</text>
<path d="M427.89 423.45 v-1.5" stroke="#444" stroke-width="1"/>
<text x="427.89" y="437.95" font-size="9.40" text-anchor="middle" font-weight="normal" fill="#2a2a2a" stroke="#2a2a2a" stroke-width="0.15" >Apr</text>
<path d="M452.05 423.45 v-1.5" stroke="#444" stroke-width="1"/>
<text x="452.05" y="437.95" font-size="9.40" text-anchor="middle" font-weight="normal" fill="#2a2a2a" stroke="#2a2a2a" stroke-width="0.15" >Jul</text>
<path d="M476.48 423.45 v-1.5" stroke="#444" stroke-width="1"/>
<text x="476.48" y="437.95" font-size="9.40" text-anchor="middle" font-weight="normal" fill="#2a2a2a" stroke="#2a2a2a" stroke-width="0.15" >Oct</text>
<path d="M500.90 423.45 v-1.5" stroke="#444" stroke-width="1"/>
<text x="500.90" y="437.95" font-size="9.40" text-anchor="middle" font-weight="normal" fill="#2a2a2a" stroke="#2a2a2a" stroke-width="0.15" >Jan</text>
<path d="M56.50 441.70 V507.10 H154.60" fill="none" stroke="#707070" stroke-width="1.15"/>
<path d="M56.50 507.10 h1.5" stroke="#444" stroke-width="1"/>
<text x="52.20" y="510.80" font-size="9.40" text-anchor="end" font-weight="normal" fill="#2a2a2a" stroke="#2a2a2a" stroke-width="0.15" >7.3</text>
<path d="M56.50 496.25 h1.5" stroke="#444" stroke-width="1"/>
<text x="52.20" y="499.95" font-size="9.40" text-anchor="end" font-weight="normal" fill="#2a2a2a" stroke="#2a2a2a" stroke-width="0.15" >7.5</text>
<path d="M56.50 485.40 h1.5" stroke="#444" stroke-width="1"/>
<text x="52.20" y="489.10" font-size="9.40" text-anchor="end" font-weight="normal" fill="#2a2a2a" stroke="#2a2a2a" stroke-width="0.15" >7.7</text>
<path d="M56.50 474.55 h1.5" stroke="#444" stroke-width="1"/>
<text x="52.20" y="478.25" font-size="9.40" text-anchor="end" font-weight="normal" fill="#2a2a2a" stroke="#2a2a2a" stroke-width="0.15" >7.9</text>
<path d="M56.50 463.70 h1.5" stroke="#444" stroke-width="1"/>
<text x="52.20" y="467.40" font-size="9.40" text-anchor="end" font-weight="normal" fill="#2a2a2a" stroke="#2a2a2a" stroke-width="0.15" >8.1</text>
<path d="M56.50 452.85 h1.5" stroke="#444" stroke-width="1"/>
<text x="52.20" y="456.55" font-size="9.40" text-anchor="end" font-weight="normal" fill="#2a2a2a" stroke="#2a2a2a" stroke-width="0.15" >8.3</text>
<path d="M56.50 442.00 h1.5" stroke="#444" stroke-width="1"/>
<text x="52.20" y="445.70" font-size="9.40" text-anchor="end" font-weight="normal" fill="#2a2a2a" stroke="#2a2a2a" stroke-width="0.15" >8.5</text>
<path d="M56.50 507.10 v-1.5" stroke="#444" stroke-width="1"/>
<text x="56.50" y="521.60" font-size="9.40" text-anchor="middle" font-weight="normal" fill="#2a2a2a" stroke="#2a2a2a" stroke-width="0.15" >Jan</text>
<path d="M80.69 507.10 v-1.5" stroke="#444" stroke-width="1"/>
<text x="80.69" y="521.60" font-size="9.40" text-anchor="middle" font-weight="normal" fill="#2a2a2a" stroke="#2a2a2a" stroke-width="0.15" >Apr</text>
<path d="M105.15 507.10 v-1.5" stroke="#444" stroke-width="1"/>
<text x="105.15" y="521.60" font-size="9.40" text-anchor="middle" font-weight="normal" fill="#2a2a2a" stroke="#2a2a2a" stroke-width="0.15" >Jul</text>
<path d="M129.87 507.10 v-1.5" stroke="#444" stroke-width="1"/>
<text x="129.87" y="521.60" font-size="9.40" text-anchor="middle" font-weight="normal" fill="#2a2a2a" stroke="#2a2a2a" stroke-width="0.15" >Oct</text>
<path d="M154.60 507.10 v-1.5" stroke="#444" stroke-width="1"/>
<text x="154.60" y="521.60" font-size="9.40" text-anchor="middle" font-weight="normal" fill="#2a2a2a" stroke="#2a2a2a" stroke-width="0.15" >Jan</text>
<path d="M172.00 441.70 V507.10 H270.20" fill="none" stroke="#707070" stroke-width="1.15"/>
<path d="M172.00 507.10 h1.5" stroke="#444" stroke-width="1"/>
<path d="M172.00 496.25 h1.5" stroke="#444" stroke-width="1"/>
<path d="M172.00 485.40 h1.5" stroke="#444" stroke-width="1"/>
<path d="M172.00 474.55 h1.5" stroke="#444" stroke-width="1"/>
<path d="M172.00 463.70 h1.5" stroke="#444" stroke-width="1"/>
<path d="M172.00 452.85 h1.5" stroke="#444" stroke-width="1"/>
<path d="M172.00 442.00 h1.5" stroke="#444" stroke-width="1"/>
<path d="M172.00 507.10 v-1.5" stroke="#444" stroke-width="1"/>
<text x="172.00" y="521.60" font-size="9.40" text-anchor="middle" font-weight="normal" fill="#2a2a2a" stroke="#2a2a2a" stroke-width="0.15" >Jan</text>
<path d="M196.21 507.10 v-1.5" stroke="#444" stroke-width="1"/>
<text x="196.21" y="521.60" font-size="9.40" text-anchor="middle" font-weight="normal" fill="#2a2a2a" stroke="#2a2a2a" stroke-width="0.15" >Apr</text>
<path d="M220.70 507.10 v-1.5" stroke="#444" stroke-width="1"/>
<text x="220.70" y="521.60" font-size="9.40" text-anchor="middle" font-weight="normal" fill="#2a2a2a" stroke="#2a2a2a" stroke-width="0.15" >Jul</text>
<path d="M245.45 507.10 v-1.5" stroke="#444" stroke-width="1"/>
<text x="245.45" y="521.60" font-size="9.40" text-anchor="middle" font-weight="normal" fill="#2a2a2a" stroke="#2a2a2a" stroke-width="0.15" >Oct</text>
<path d="M270.20 507.10 v-1.5" stroke="#444" stroke-width="1"/>
<text x="270.20" y="521.60" font-size="9.40" text-anchor="middle" font-weight="normal" fill="#2a2a2a" stroke="#2a2a2a" stroke-width="0.15" >Jan</text>
<path d="M288.50 441.70 V507.10 H385.80" fill="none" stroke="#707070" stroke-width="1.15"/>
<path d="M288.50 507.10 h1.5" stroke="#444" stroke-width="1"/>
<path d="M288.50 496.25 h1.5" stroke="#444" stroke-width="1"/>
<path d="M288.50 485.40 h1.5" stroke="#444" stroke-width="1"/>
<path d="M288.50 474.55 h1.5" stroke="#444" stroke-width="1"/>
<path d="M288.50 463.70 h1.5" stroke="#444" stroke-width="1"/>
<path d="M288.50 452.85 h1.5" stroke="#444" stroke-width="1"/>
<path d="M288.50 442.00 h1.5" stroke="#444" stroke-width="1"/>
<path d="M288.50 507.10 v-1.5" stroke="#444" stroke-width="1"/>
<text x="288.50" y="521.60" font-size="9.40" text-anchor="middle" font-weight="normal" fill="#2a2a2a" stroke="#2a2a2a" stroke-width="0.15" >Jan</text>
<path d="M312.49 507.10 v-1.5" stroke="#444" stroke-width="1"/>
<text x="312.49" y="521.60" font-size="9.40" text-anchor="middle" font-weight="normal" fill="#2a2a2a" stroke="#2a2a2a" stroke-width="0.15" >Apr</text>
<path d="M336.75 507.10 v-1.5" stroke="#444" stroke-width="1"/>
<text x="336.75" y="521.60" font-size="9.40" text-anchor="middle" font-weight="normal" fill="#2a2a2a" stroke="#2a2a2a" stroke-width="0.15" >Jul</text>
<path d="M361.28 507.10 v-1.5" stroke="#444" stroke-width="1"/>
<text x="361.28" y="521.60" font-size="9.40" text-anchor="middle" font-weight="normal" fill="#2a2a2a" stroke="#2a2a2a" stroke-width="0.15" >Oct</text>
<path d="M385.80 507.10 v-1.5" stroke="#444" stroke-width="1"/>
<text x="385.80" y="521.60" font-size="9.40" text-anchor="middle" font-weight="normal" fill="#2a2a2a" stroke="#2a2a2a" stroke-width="0.15" >Jan</text>
<path d="M404.00 441.70 V507.10 H500.90" fill="none" stroke="#707070" stroke-width="1.15"/>
<path d="M404.00 507.10 h1.5" stroke="#444" stroke-width="1"/>
<path d="M404.00 496.25 h1.5" stroke="#444" stroke-width="1"/>
<path d="M404.00 485.40 h1.5" stroke="#444" stroke-width="1"/>
<path d="M404.00 474.55 h1.5" stroke="#444" stroke-width="1"/>
<path d="M404.00 463.70 h1.5" stroke="#444" stroke-width="1"/>
<path d="M404.00 452.85 h1.5" stroke="#444" stroke-width="1"/>
<path d="M404.00 442.00 h1.5" stroke="#444" stroke-width="1"/>
<path d="M404.00 507.10 v-1.5" stroke="#444" stroke-width="1"/>
<text x="404.00" y="521.60" font-size="9.40" text-anchor="middle" font-weight="normal" fill="#2a2a2a" stroke="#2a2a2a" stroke-width="0.15" >Jan</text>
<path d="M427.89 507.10 v-1.5" stroke="#444" stroke-width="1"/>
<text x="427.89" y="521.60" font-size="9.40" text-anchor="middle" font-weight="normal" fill="#2a2a2a" stroke="#2a2a2a" stroke-width="0.15" >Apr</text>
<path d="M452.05 507.10 v-1.5" stroke="#444" stroke-width="1"/>
<text x="452.05" y="521.60" font-size="9.40" text-anchor="middle" font-weight="normal" fill="#2a2a2a" stroke="#2a2a2a" stroke-width="0.15" >Jul</text>
<path d="M476.48 507.10 v-1.5" stroke="#444" stroke-width="1"/>
<text x="476.48" y="521.60" font-size="9.40" text-anchor="middle" font-weight="normal" fill="#2a2a2a" stroke="#2a2a2a" stroke-width="0.15" >Oct</text>
<path d="M500.90 507.10 v-1.5" stroke="#444" stroke-width="1"/>
<text x="500.90" y="521.60" font-size="9.40" text-anchor="middle" font-weight="normal" fill="#2a2a2a" stroke="#2a2a2a" stroke-width="0.15" >Jan</text>
<path d="M56.50 525.20 V590.75 H154.60" fill="none" stroke="#707070" stroke-width="1.15"/>
<path d="M56.50 590.75 h1.5" stroke="#444" stroke-width="1"/>
<text x="52.20" y="594.45" font-size="9.40" text-anchor="end" font-weight="normal" fill="#2a2a2a" stroke="#2a2a2a" stroke-width="0.15" >0</text>
<path d="M56.50 569.00 h1.5" stroke="#444" stroke-width="1"/>
<text x="52.20" y="572.70" font-size="9.40" text-anchor="end" font-weight="normal" fill="#2a2a2a" stroke="#2a2a2a" stroke-width="0.15" >1</text>
<path d="M56.50 547.25 h1.5" stroke="#444" stroke-width="1"/>
<text x="52.20" y="550.95" font-size="9.40" text-anchor="end" font-weight="normal" fill="#2a2a2a" stroke="#2a2a2a" stroke-width="0.15" >2</text>
<path d="M56.50 525.50 h1.5" stroke="#444" stroke-width="1"/>
<text x="52.20" y="529.20" font-size="9.40" text-anchor="end" font-weight="normal" fill="#2a2a2a" stroke="#2a2a2a" stroke-width="0.15" >3</text>
<path d="M56.50 590.75 v-1.5" stroke="#444" stroke-width="1"/>
<text x="56.50" y="605.25" font-size="9.40" text-anchor="middle" font-weight="normal" fill="#2a2a2a" stroke="#2a2a2a" stroke-width="0.15" >Jan</text>
<path d="M80.69 590.75 v-1.5" stroke="#444" stroke-width="1"/>
<text x="80.69" y="605.25" font-size="9.40" text-anchor="middle" font-weight="normal" fill="#2a2a2a" stroke="#2a2a2a" stroke-width="0.15" >Apr</text>
<path d="M105.15 590.75 v-1.5" stroke="#444" stroke-width="1"/>
<text x="105.15" y="605.25" font-size="9.40" text-anchor="middle" font-weight="normal" fill="#2a2a2a" stroke="#2a2a2a" stroke-width="0.15" >Jul</text>
<path d="M129.87 590.75 v-1.5" stroke="#444" stroke-width="1"/>
<text x="129.87" y="605.25" font-size="9.40" text-anchor="middle" font-weight="normal" fill="#2a2a2a" stroke="#2a2a2a" stroke-width="0.15" >Oct</text>
<path d="M154.60 590.75 v-1.5" stroke="#444" stroke-width="1"/>
<text x="154.60" y="605.25" font-size="9.40" text-anchor="middle" font-weight="normal" fill="#2a2a2a" stroke="#2a2a2a" stroke-width="0.15" >Jan</text>
<path d="M172.00 525.20 V590.75 H270.20" fill="none" stroke="#707070" stroke-width="1.15"/>
<path d="M172.00 590.75 h1.5" stroke="#444" stroke-width="1"/>
<path d="M172.00 569.00 h1.5" stroke="#444" stroke-width="1"/>
<path d="M172.00 547.25 h1.5" stroke="#444" stroke-width="1"/>
<path d="M172.00 525.50 h1.5" stroke="#444" stroke-width="1"/>
<path d="M172.00 590.75 v-1.5" stroke="#444" stroke-width="1"/>
<text x="172.00" y="605.25" font-size="9.40" text-anchor="middle" font-weight="normal" fill="#2a2a2a" stroke="#2a2a2a" stroke-width="0.15" >Jan</text>
<path d="M196.21 590.75 v-1.5" stroke="#444" stroke-width="1"/>
<text x="196.21" y="605.25" font-size="9.40" text-anchor="middle" font-weight="normal" fill="#2a2a2a" stroke="#2a2a2a" stroke-width="0.15" >Apr</text>
<path d="M220.70 590.75 v-1.5" stroke="#444" stroke-width="1"/>
<text x="220.70" y="605.25" font-size="9.40" text-anchor="middle" font-weight="normal" fill="#2a2a2a" stroke="#2a2a2a" stroke-width="0.15" >Jul</text>
<path d="M245.45 590.75 v-1.5" stroke="#444" stroke-width="1"/>
<text x="245.45" y="605.25" font-size="9.40" text-anchor="middle" font-weight="normal" fill="#2a2a2a" stroke="#2a2a2a" stroke-width="0.15" >Oct</text>
<path d="M270.20 590.75 v-1.5" stroke="#444" stroke-width="1"/>
<text x="270.20" y="605.25" font-size="9.40" text-anchor="middle" font-weight="normal" fill="#2a2a2a" stroke="#2a2a2a" stroke-width="0.15" >Jan</text>
<path d="M288.50 525.20 V590.75 H385.80" fill="none" stroke="#707070" stroke-width="1.15"/>
<path d="M288.50 590.75 h1.5" stroke="#444" stroke-width="1"/>
<path d="M288.50 569.00 h1.5" stroke="#444" stroke-width="1"/>
<path d="M288.50 547.25 h1.5" stroke="#444" stroke-width="1"/>
<path d="M288.50 525.50 h1.5" stroke="#444" stroke-width="1"/>
<path d="M288.50 590.75 v-1.5" stroke="#444" stroke-width="1"/>
<text x="288.50" y="605.25" font-size="9.40" text-anchor="middle" font-weight="normal" fill="#2a2a2a" stroke="#2a2a2a" stroke-width="0.15" >Jan</text>
<path d="M312.49 590.75 v-1.5" stroke="#444" stroke-width="1"/>
<text x="312.49" y="605.25" font-size="9.40" text-anchor="middle" font-weight="normal" fill="#2a2a2a" stroke="#2a2a2a" stroke-width="0.15" >Apr</text>
<path d="M336.75 590.75 v-1.5" stroke="#444" stroke-width="1"/>
<text x="336.75" y="605.25" font-size="9.40" text-anchor="middle" font-weight="normal" fill="#2a2a2a" stroke="#2a2a2a" stroke-width="0.15" >Jul</text>
<path d="M361.28 590.75 v-1.5" stroke="#444" stroke-width="1"/>
<text x="361.28" y="605.25" font-size="9.40" text-anchor="middle" font-weight="normal" fill="#2a2a2a" stroke="#2a2a2a" stroke-width="0.15" >Oct</text>
<path d="M385.80 590.75 v-1.5" stroke="#444" stroke-width="1"/>
<text x="385.80" y="605.25" font-size="9.40" text-anchor="middle" font-weight="normal" fill="#2a2a2a" stroke="#2a2a2a" stroke-width="0.15" >Jan</text>
<path d="M404.00 525.20 V590.75 H500.90" fill="none" stroke="#707070" stroke-width="1.15"/>
<path d="M404.00 590.75 h1.5" stroke="#444" stroke-width="1"/>
<path d="M404.00 569.00 h1.5" stroke="#444" stroke-width="1"/>
<path d="M404.00 547.25 h1.5" stroke="#444" stroke-width="1"/>
<path d="M404.00 525.50 h1.5" stroke="#444" stroke-width="1"/>
<path d="M404.00 590.75 v-1.5" stroke="#444" stroke-width="1"/>
<text x="404.00" y="605.25" font-size="9.40" text-anchor="middle" font-weight="normal" fill="#2a2a2a" stroke="#2a2a2a" stroke-width="0.15" >Jan</text>
<path d="M427.89 590.75 v-1.5" stroke="#444" stroke-width="1"/>
<text x="427.89" y="605.25" font-size="9.40" text-anchor="middle" font-weight="normal" fill="#2a2a2a" stroke="#2a2a2a" stroke-width="0.15" >Apr</text>
<path d="M452.05 590.75 v-1.5" stroke="#444" stroke-width="1"/>
<text x="452.05" y="605.25" font-size="9.40" text-anchor="middle" font-weight="normal" fill="#2a2a2a" stroke="#2a2a2a" stroke-width="0.15" >Jul</text>
<path d="M476.48 590.75 v-1.5" stroke="#444" stroke-width="1"/>
<text x="476.48" y="605.25" font-size="9.40" text-anchor="middle" font-weight="normal" fill="#2a2a2a" stroke="#2a2a2a" stroke-width="0.15" >Oct</text>
<path d="M500.90 590.75 v-1.5" stroke="#444" stroke-width="1"/>
<text x="500.90" y="605.25" font-size="9.40" text-anchor="middle" font-weight="normal" fill="#2a2a2a" stroke="#2a2a2a" stroke-width="0.15" >Jan</text>
<text x="105.55" y="21.30" font-size="10.00" text-anchor="middle" font-weight="bold" fill="#000" stroke="#000" stroke-width="0.15" >Gordon Point</text>
<text x="221.10" y="21.30" font-size="10.00" text-anchor="middle" font-weight="bold" fill="#000" stroke="#000" stroke-width="0.15" >West Point</text>
<text x="337.15" y="21.30" font-size="10.00" text-anchor="middle" font-weight="bold" fill="#000" stroke="#000" stroke-width="0.15" >Hood Canal</text>
<text x="452.45" y="21.30" font-size="10.00" text-anchor="middle" font-weight="bold" fill="#000" stroke="#000" stroke-width="0.15" >Saratoga Passage</text>
<polyline points="56.74,88.26 57.91,88.32 59.28,88.27 60.73,88.33 61.95,88.26 63.46,88.33 64.55,88.26 66.03,88.32 67.48,88.25 68.78,88.35 69.92,88.26 71.49,88.33 72.66,88.26 73.97,88.30 75.50,88.21 76.66,88.29 77.90,88.19 79.35,88.24 80.75,88.18 82.13,88.24 83.80,87.37 85.95,86.12 86.93,85.55 88.08,85.13 90.00,84.75 92.22,85.13 93.83,85.95 96.00,86.44 97.24,85.99 98.88,86.03 100.33,85.56 101.79,85.94 103.04,85.78 104.54,85.81 106.03,85.40 107.78,85.49 109.50,85.30 110.99,85.57 112.65,85.14 114.27,85.23 116.26,83.61 118.02,82.96 119.53,83.64 121.02,84.63 122.71,84.68 124.38,85.24 125.63,85.10 127.30,85.59 128.67,85.69 130.05,86.20 131.50,86.49 132.80,87.18 134.20,87.52 135.92,88.03 137.83,88.13 139.46,88.34 140.78,88.26 142.49,88.33 143.76,88.28 145.11,88.34 146.45,88.27 147.73,88.35 148.96,88.28 150.69,88.32 151.72,88.28 153.36,88.35 154.60,88.30" fill="none" stroke="#383838" stroke-width="1.15" stroke-linejoin="round" />
<polygon points="68.13,85.61 70.43,88.91 65.83,88.91" fill="none" stroke="#3cb0ea" stroke-width="1.25" stroke-linejoin="miter"/>
<polygon points="77.22,85.61 79.52,88.91 74.92,88.91" fill="none" stroke="#3cb0ea" stroke-width="1.25" stroke-linejoin="miter"/>
<polygon points="83.00,83.41 85.30,86.71 80.70,86.71" fill="none" stroke="#3cb0ea" stroke-width="1.25" stroke-linejoin="miter"/>
<polygon points="90.41,77.99 92.71,81.29 88.11,81.29" fill="none" stroke="#3cb0ea" stroke-width="1.25" stroke-linejoin="miter"/>
<polygon points="98.42,85.73 100.72,89.03 96.12,89.03" fill="none" stroke="#3cb0ea" stroke-width="1.25" stroke-linejoin="miter"/>
<polygon points="107.39,85.99 109.69,89.29 105.09,89.29" fill="none" stroke="#3cb0ea" stroke-width="1.25" stroke-linejoin="miter"/>
<polygon points="118.49,78.30 120.79,81.60 116.19,81.60" fill="none" stroke="#3cb0ea" stroke-width="1.25" stroke-linejoin="miter"/>
<polygon points="127.70,81.99 130.00,85.29 125.40,85.29" fill="none" stroke="#3cb0ea" stroke-width="1.25" stroke-linejoin="miter"/>
<polygon points="133.76,84.42 136.06,87.72 131.46,87.72" fill="none" stroke="#3cb0ea" stroke-width="1.25" stroke-linejoin="miter"/>
<circle cx="118.49" cy="83.21" r="2.05" fill="none" stroke="#f00" stroke-width="1.35"/>
<polyline points="172.28,88.51 173.91,88.89 175.19,88.54 176.64,88.95 177.80,88.57 179.48,88.82 180.84,88.52 182.09,88.82 183.35,88.24 184.97,88.58 185.96,88.24 187.68,88.57 188.73,88.17 190.00,88.44 191.51,88.07 192.78,88.36 194.12,87.99 195.49,88.22 197.06,87.88 198.33,88.17 199.81,87.72 200.81,88.11 202.40,87.66 203.83,88.04 205.13,87.58 206.27,87.98 207.85,87.55 209.04,88.07 210.20,87.76 211.85,88.13 212.95,87.79 214.50,88.27 215.72,87.90 217.12,88.38 218.47,88.00 219.80,88.17 220.97,87.73 222.69,88.08 223.80,87.64 225.19,87.96 226.65,87.36 228.12,87.68 229.43,87.22 230.90,87.67 232.22,87.25 233.93,87.51 235.31,87.13 236.79,87.61 238.20,87.22 239.54,87.66 240.78,87.27 242.43,87.73 243.85,87.46 245.23,87.87 246.75,87.55 248.22,88.01 249.43,87.75 250.93,88.16 252.64,87.74 254.06,88.32 255.29,87.85 256.90,88.28 257.95,88.12 259.55,88.40 260.61,88.07 262.01,88.44 263.25,88.17 264.57,88.56 266.10,88.27 267.26,88.69 268.45,88.37 269.95,88.58" fill="none" stroke="#383838" stroke-width="1.15" stroke-linejoin="round" />
<polygon points="180.10,84.86 182.40,88.16 177.80,88.16" fill="none" stroke="#3cb0ea" stroke-width="1.25" stroke-linejoin="miter"/>
<polygon points="187.16,84.86 189.46,88.16 184.86,88.16" fill="none" stroke="#3cb0ea" stroke-width="1.25" stroke-linejoin="miter"/>
<polygon points="192.82,84.05 195.12,87.35 190.52,87.35" fill="none" stroke="#3cb0ea" stroke-width="1.25" stroke-linejoin="miter"/>
<polygon points="201.90,84.45 204.20,87.75 199.60,87.75" fill="none" stroke="#3cb0ea" stroke-width="1.25" stroke-linejoin="miter"/>
<polygon points="209.98,84.86 212.28,88.16 207.68,88.16" fill="none" stroke="#3cb0ea" stroke-width="1.25" stroke-linejoin="miter"/>
<polygon points="217.45,85.26 219.75,88.56 215.15,88.56" fill="none" stroke="#3cb0ea" stroke-width="1.25" stroke-linejoin="miter"/>
<polygon points="226.94,85.26 229.24,88.56 224.64,88.56" fill="none" stroke="#3cb0ea" stroke-width="1.25" stroke-linejoin="miter"/>
<polygon points="234.62,84.86 236.92,88.16 232.32,88.16" fill="none" stroke="#3cb0ea" stroke-width="1.25" stroke-linejoin="miter"/>
<polygon points="241.68,84.86 243.98,88.16 239.38,88.16" fill="none" stroke="#3cb0ea" stroke-width="1.25" stroke-linejoin="miter"/>
<polygon points="250.77,85.26 253.07,88.56 248.47,88.56" fill="none" stroke="#3cb0ea" stroke-width="1.25" stroke-linejoin="miter"/>
<polygon points="258.24,85.67 260.54,88.97 255.94,88.97" fill="none" stroke="#3cb0ea" stroke-width="1.25" stroke-linejoin="miter"/>
<polygon points="266.52,85.67 268.82,88.97 264.22,88.97" fill="none" stroke="#3cb0ea" stroke-width="1.25" stroke-linejoin="miter"/>
<polyline points="288.01,88.89 288.98,89.27 290.63,88.90 291.89,89.28 293.20,88.88 294.52,89.20 295.80,88.89 297.24,89.34 298.67,88.82 299.80,89.15 300.97,88.89 302.55,89.12 303.93,88.66 305.40,89.13 306.70,88.80 308.15,89.00 309.64,88.56 311.12,88.97 312.62,88.56 313.97,89.08 315.39,88.52 316.67,89.07 318.36,88.65 319.72,89.02 321.04,88.58 322.50,89.06 323.94,88.51 325.33,89.05 326.89,88.57 328.10,89.02 329.51,88.52 330.66,88.85 332.20,88.54 333.62,88.79 334.97,88.47 336.34,88.84 337.50,88.38 338.91,88.72 340.12,88.31 341.54,88.66 342.93,88.20 344.36,88.48 345.74,88.04 347.19,88.02 348.67,87.52 350.01,87.69 351.48,86.96 353.29,87.46 354.55,87.19 356.15,87.86 357.51,87.60 359.08,88.05 360.55,87.58 362.05,88.16 363.56,87.83 365.39,88.14 366.65,87.84 368.25,88.22 370.00,88.05 371.00,88.39 372.61,88.04 373.78,88.50 375.13,88.21 376.80,88.69 378.23,88.25 379.59,88.80 380.81,88.48 382.26,88.83 383.42,88.54 384.95,88.78" fill="none" stroke="#383838" stroke-width="1.15" stroke-linejoin="round" />
<polygon points="292.67,86.47 294.97,89.77 290.37,89.77" fill="none" stroke="#3cb0ea" stroke-width="1.25" stroke-linejoin="miter"/>
<polygon points="303.17,86.07 305.47,89.37 300.87,89.37" fill="none" stroke="#3cb0ea" stroke-width="1.25" stroke-linejoin="miter"/>
<polygon points="310.85,84.45 313.15,87.75 308.55,87.75" fill="none" stroke="#3cb0ea" stroke-width="1.25" stroke-linejoin="miter"/>
<polygon points="316.30,85.26 318.60,88.56 314.00,88.56" fill="none" stroke="#3cb0ea" stroke-width="1.25" stroke-linejoin="miter"/>
<polygon points="321.95,86.47 324.25,89.77 319.65,89.77" fill="none" stroke="#3cb0ea" stroke-width="1.25" stroke-linejoin="miter"/>
<polygon points="329.42,86.88 331.72,90.18 327.12,90.18" fill="none" stroke="#3cb0ea" stroke-width="1.25" stroke-linejoin="miter"/>
<polygon points="343.56,86.47 345.86,89.77 341.26,89.77" fill="none" stroke="#3cb0ea" stroke-width="1.25" stroke-linejoin="miter"/>
<polygon points="349.49,84.49 351.79,87.79 347.19,87.79" fill="none" stroke="#3cb0ea" stroke-width="1.25" stroke-linejoin="miter"/>
<polygon points="356.08,83.24 358.38,86.54 353.78,86.54" fill="none" stroke="#3cb0ea" stroke-width="1.25" stroke-linejoin="miter"/>
<polygon points="370.82,85.67 373.12,88.97 368.52,88.97" fill="none" stroke="#3cb0ea" stroke-width="1.25" stroke-linejoin="miter"/>
<circle cx="350.22" cy="82.72" r="2.05" fill="none" stroke="#f00" stroke-width="1.35"/>
<polyline points="403.93,88.98 405.33,89.38 406.78,89.03 407.88,89.38 409.33,88.95 410.97,89.26 412.25,88.86 413.52,89.15 414.86,88.73 416.16,89.23 417.64,88.86 419.08,89.15 420.31,88.82 421.95,89.09 423.31,88.61 424.72,89.14 426.01,88.58 427.44,89.11 429.03,88.69 430.14,88.91 431.89,88.58 433.17,88.89 434.53,88.55 435.88,88.91 437.39,88.40 438.84,88.94 440.33,88.34 441.66,88.74 443.15,88.30 444.58,88.79 445.85,88.44 447.25,88.79 448.38,88.47 449.95,88.87 450.99,88.32 452.46,88.70 453.76,88.33 455.34,88.68 456.58,88.48 457.97,88.67 459.38,88.15 460.58,88.67 461.85,88.20 463.31,88.34 464.49,88.00 466.01,88.23 467.12,87.77 468.58,88.26 470.16,87.73 471.33,88.04 472.75,87.55 474.06,87.85 475.56,87.30 476.70,87.61 478.14,87.41 479.95,87.97 481.29,87.88 482.75,88.38 484.11,88.11 485.87,88.58 487.38,88.44 488.92,88.94 490.32,88.56 491.43,88.93 493.08,88.56 494.30,89.07 495.82,88.75 497.12,89.09 498.51,88.74 499.95,88.98" fill="none" stroke="#383838" stroke-width="1.15" stroke-linejoin="round" />
<polygon points="405.65,86.47 407.95,89.77 403.35,89.77" fill="none" stroke="#3cb0ea" stroke-width="1.25" stroke-linejoin="miter"/>
<polygon points="413.12,86.47 415.43,89.77 410.82,89.77" fill="none" stroke="#3cb0ea" stroke-width="1.25" stroke-linejoin="miter"/>
<polygon points="423.22,86.07 425.52,89.37 420.92,89.37" fill="none" stroke="#3cb0ea" stroke-width="1.25" stroke-linejoin="miter"/>
<polygon points="430.29,86.47 432.59,89.77 427.99,89.77" fill="none" stroke="#3cb0ea" stroke-width="1.25" stroke-linejoin="miter"/>
<polygon points="439.38,86.07 441.68,89.37 437.07,89.37" fill="none" stroke="#3cb0ea" stroke-width="1.25" stroke-linejoin="miter"/>
<polygon points="447.05,86.07 449.35,89.37 444.75,89.37" fill="none" stroke="#3cb0ea" stroke-width="1.25" stroke-linejoin="miter"/>
<polygon points="455.53,86.47 457.83,89.77 453.23,89.77" fill="none" stroke="#3cb0ea" stroke-width="1.25" stroke-linejoin="miter"/>
<polygon points="462.19,83.24 464.49,86.54 459.89,86.54" fill="none" stroke="#3cb0ea" stroke-width="1.25" stroke-linejoin="miter"/>
<polygon points="469.06,82.84 471.36,86.14 466.76,86.14" fill="none" stroke="#3cb0ea" stroke-width="1.25" stroke-linejoin="miter"/>
<polygon points="483.80,86.07 486.10,89.37 481.50,89.37" fill="none" stroke="#3cb0ea" stroke-width="1.25" stroke-linejoin="miter"/>
<circle cx="469.06" cy="87.16" r="2.05" fill="none" stroke="#f00" stroke-width="1.35"/>
<polyline points="56.49,115.76 58.26,115.54 59.83,115.14 61.83,115.15 63.44,114.89 65.01,114.85 66.54,114.76 68.22,114.89 70.13,114.71 71.55,114.84 72.78,114.73 74.38,114.89 75.87,114.76 77.19,114.88 78.57,114.76 79.99,114.84 81.67,114.91 83.02,115.25 85.16,116.23 86.15,117.47 87.00,118.35 88.04,119.59 88.86,120.41 90.13,121.56 90.82,122.35 92.41,123.67 93.99,124.34 96.20,126.15 97.30,125.67 98.72,126.69 99.94,125.76 101.59,127.39 103.50,126.70 104.82,127.71 106.77,126.94 108.23,128.38 109.87,127.64 111.48,129.04 113.49,127.60 115.09,129.47 116.47,128.05 118.52,129.16 119.96,127.44 121.38,128.74 122.58,127.56 123.98,127.80 125.20,127.98 126.43,128.92 127.82,127.38 129.11,126.38 129.92,125.28 131.44,124.38 132.38,123.38 133.57,122.57 135.07,121.68 136.07,121.03 137.40,120.25 138.60,119.78 140.11,119.17 141.45,118.76 142.40,118.22 143.56,117.80 144.90,117.25 146.80,116.87 148.15,116.34 149.90,115.92 151.39,115.62 152.86,115.45 154.50,115.20" fill="none" stroke="#000" stroke-width="1.15" stroke-linejoin="round" />
<circle cx="68.13" cy="113.69" r="2.05" fill="none" stroke="#f00" stroke-width="1.35"/>
<circle cx="77.22" cy="117.12" r="2.05" fill="none" stroke="#f00" stroke-width="1.35"/>
<circle cx="83.28" cy="120.76" r="2.05" fill="none" stroke="#f00" stroke-width="1.35"/>
<circle cx="90.35" cy="127.83" r="2.05" fill="none" stroke="#f00" stroke-width="1.35"/>
<circle cx="98.02" cy="130.25" r="2.05" fill="none" stroke="#f00" stroke-width="1.35"/>
<circle cx="106.90" cy="131.87" r="2.05" fill="none" stroke="#f00" stroke-width="1.35"/>
<circle cx="118.62" cy="138.33" r="2.05" fill="none" stroke="#f00" stroke-width="1.35"/>
<circle cx="127.70" cy="133.88" r="2.05" fill="none" stroke="#f00" stroke-width="1.35"/>
<circle cx="133.76" cy="130.86" r="2.05" fill="none" stroke="#f00" stroke-width="1.35"/>
<polyline points="172.47,117.89 173.95,118.07 175.35,117.14 176.48,117.26 178.25,116.49 179.68,116.75 180.95,116.41 182.42,116.67 183.65,116.24 185.20,116.57 186.84,116.08 188.29,116.23 189.61,115.92 190.75,116.24 192.22,115.75 193.92,116.09 195.03,115.44 196.52,115.89 197.77,115.30 199.36,115.80 200.70,116.01 201.75,116.95 202.92,117.37 204.25,118.35 205.14,118.74 206.28,119.97 207.48,120.47 208.29,121.69 209.46,122.24 210.57,123.28 211.83,123.35 212.88,124.31 214.37,124.28 215.57,125.03 216.99,125.08 218.34,126.06 219.98,125.65 221.09,126.24 222.51,125.96 223.69,126.59 225.31,126.21 226.35,126.90 227.82,126.51 229.47,127.01 230.80,126.50 232.33,127.00 233.68,126.78 235.02,127.08 236.71,126.72 237.85,127.15 239.52,126.88 240.64,127.26 242.06,126.89 243.35,127.37 244.53,126.94 245.74,126.81 247.27,125.89 248.44,125.69 249.61,124.54 250.61,124.37 251.84,123.20 253.11,122.92 254.60,121.74 255.81,121.47 256.82,120.31 258.16,120.24 259.48,119.49 260.82,119.44 262.40,118.45 263.56,118.36 264.74,117.58 266.53,117.70 267.88,116.87 269.56,117.06 270.96,116.52" fill="none" stroke="#383838" stroke-width="1.15" stroke-linejoin="round" />
<circle cx="187.57" cy="114.50" r="2.05" fill="none" stroke="#f00" stroke-width="1.35"/>
<circle cx="192.82" cy="118.13" r="2.05" fill="none" stroke="#f00" stroke-width="1.35"/>
<circle cx="202.31" cy="121.16" r="2.05" fill="none" stroke="#f00" stroke-width="1.35"/>
<circle cx="210.38" cy="122.17" r="2.05" fill="none" stroke="#f00" stroke-width="1.35"/>
<circle cx="217.45" cy="119.55" r="2.05" fill="none" stroke="#f00" stroke-width="1.35"/>
<circle cx="226.94" cy="128.23" r="2.05" fill="none" stroke="#f00" stroke-width="1.35"/>
<circle cx="234.62" cy="125.20" r="2.05" fill="none" stroke="#f00" stroke-width="1.35"/>
<circle cx="241.68" cy="124.19" r="2.05" fill="none" stroke="#f00" stroke-width="1.35"/>
<circle cx="251.17" cy="121.16" r="2.05" fill="none" stroke="#f00" stroke-width="1.35"/>
<circle cx="258.44" cy="117.53" r="2.05" fill="none" stroke="#f00" stroke-width="1.35"/>
<circle cx="266.32" cy="113.09" r="2.05" fill="none" stroke="#f00" stroke-width="1.35"/>
<polyline points="288.72,119.32 290.29,119.47 291.80,118.97 293.32,119.32 294.62,118.68 295.91,119.06 297.43,118.42 298.68,118.63 299.88,117.99 302.12,117.75 303.62,117.36 305.14,117.61 306.50,117.33 308.46,117.62 309.84,117.41 311.55,117.65 313.18,117.46 314.38,118.05 315.94,118.01 317.66,119.03 319.06,119.44 320.62,120.40 321.81,120.69 324.04,122.50 326.04,123.79 328.15,124.67 329.85,122.62 331.42,123.02 332.99,122.40 334.38,122.95 336.08,122.25 337.36,121.92 338.43,120.92 340.05,122.75 341.95,121.23 343.85,122.70 345.82,120.92 346.93,122.37 347.86,123.16 348.69,124.68 350.07,122.82 351.98,124.76 353.62,122.80 354.49,124.07 355.46,124.56 356.60,125.65 357.50,124.00 358.37,123.09 359.60,123.54 360.94,124.64 362.23,125.01 363.40,126.12 364.90,124.60 365.91,123.63 367.32,122.75 368.62,122.27 370.12,121.39 371.40,121.13 372.84,120.25 374.04,119.90 375.29,119.22 376.78,119.19 377.92,118.41 379.31,118.44 380.48,117.91 381.84,118.24 383.74,117.76 385.60,118.00" fill="none" stroke="#000" stroke-width="1.20" stroke-linejoin="round" />
<circle cx="303.57" cy="115.71" r="2.05" fill="none" stroke="#f00" stroke-width="1.35"/>
<circle cx="310.84" cy="116.52" r="2.05" fill="none" stroke="#f00" stroke-width="1.35"/>
<circle cx="316.69" cy="125.61" r="2.05" fill="none" stroke="#f00" stroke-width="1.35"/>
<circle cx="321.94" cy="119.75" r="2.05" fill="none" stroke="#f00" stroke-width="1.35"/>
<circle cx="329.41" cy="116.12" r="2.05" fill="none" stroke="#f00" stroke-width="1.35"/>
<circle cx="343.14" cy="111.67" r="2.05" fill="none" stroke="#f00" stroke-width="1.35"/>
<circle cx="350.21" cy="117.73" r="2.05" fill="none" stroke="#f00" stroke-width="1.35"/>
<circle cx="356.07" cy="131.26" r="2.05" fill="none" stroke="#f00" stroke-width="1.35"/>
<circle cx="370.40" cy="126.21" r="2.05" fill="none" stroke="#f00" stroke-width="1.35"/>
<polyline points="404.53,118.16 406.36,117.94 408.01,117.52 409.16,117.63 410.48,117.38 411.83,117.45 413.30,117.17 414.52,117.27 416.05,116.96 417.36,117.05 418.86,116.78 420.14,116.78 421.19,116.54 422.59,116.63 423.87,116.29 425.39,116.62 426.69,116.62 427.82,116.87 429.57,117.01 430.93,117.51 432.63,117.67 434.42,118.22 435.65,118.54 437.21,119.34 438.69,120.02 440.19,121.06 440.97,121.75 441.86,122.93 443.82,123.27 446.11,123.61 448.15,124.14 450.08,125.11 452.03,124.11 454.14,124.89 455.99,123.37 457.82,124.74 459.41,124.55 460.83,125.35 462.95,124.17 465.31,124.99 466.80,125.33 468.19,126.26 469.65,126.61 470.86,126.08 471.83,124.98 473.52,124.48 475.13,123.32 476.41,124.72 477.94,125.52 479.58,125.18 480.67,124.41 482.14,123.55 483.74,122.35 485.20,121.51 487.05,120.43 488.73,120.08 490.01,119.43 491.50,119.30 493.03,118.95 494.45,118.89 495.81,118.39 497.24,118.17 498.77,117.72 500.50,117.40" fill="none" stroke="#383838" stroke-width="1.15" stroke-linejoin="round" />
<circle cx="406.04" cy="119.75" r="2.05" fill="none" stroke="#f00" stroke-width="1.35"/>
<circle cx="413.71" cy="117.73" r="2.05" fill="none" stroke="#f00" stroke-width="1.35"/>
<circle cx="423.20" cy="125.20" r="2.05" fill="none" stroke="#f00" stroke-width="1.35"/>
<circle cx="430.27" cy="115.51" r="2.05" fill="none" stroke="#f00" stroke-width="1.35"/>
<circle cx="439.36" cy="117.53" r="2.05" fill="none" stroke="#f00" stroke-width="1.35"/>
<circle cx="447.43" cy="114.50" r="2.05" fill="none" stroke="#f00" stroke-width="1.35"/>
<circle cx="456.12" cy="115.71" r="2.05" fill="none" stroke="#f00" stroke-width="1.35"/>
<circle cx="462.17" cy="114.10" r="2.05" fill="none" stroke="#f00" stroke-width="1.35"/>
<circle cx="469.24" cy="117.73" r="2.05" fill="none" stroke="#f00" stroke-width="1.35"/>
<circle cx="483.78" cy="122.17" r="2.05" fill="none" stroke="#f00" stroke-width="1.35"/>
<polyline points="56.49,238.90 57.35,240.08 58.08,238.45 59.20,237.04 59.96,235.54 60.78,234.26 62.38,235.22 63.84,235.69 65.81,234.25 67.96,233.28 69.45,233.04 70.90,233.60 72.16,233.05 73.62,233.46 74.94,232.96 76.50,233.33 78.16,232.79 79.36,232.49 81.18,231.67 82.08,232.69 83.43,233.04 84.85,232.87 85.94,232.03 87.20,232.35 88.54,231.67 91.08,231.29 93.14,230.20 95.28,229.92 97.31,231.27 99.13,232.29 101.20,231.44 102.54,232.42 103.90,232.84 105.91,234.48 107.95,234.83 109.56,236.18 110.76,236.88 112.52,238.04 113.98,238.25 115.47,239.04 117.11,239.24 118.32,240.18 119.79,240.42 121.58,241.50 123.34,242.00 124.19,241.37 125.24,240.37 126.69,241.62 128.10,242.06 129.49,242.90 130.31,243.18 132.35,244.14 134.40,242.74 135.79,243.12 137.03,243.03 138.35,243.40 139.84,242.30 141.30,242.01 142.37,240.91 143.88,240.71 145.64,240.09 147.29,239.98 149.05,240.36 150.63,239.43 152.08,238.04 154.60,237.50" fill="none" stroke="#000" stroke-width="1.35" stroke-linejoin="round" />
<polygon points="67.53,217.61 69.83,220.91 65.23,220.91" fill="none" stroke="#3cb0ea" stroke-width="1.25" stroke-linejoin="miter"/>
<polygon points="77.22,217.20 79.52,220.50 74.92,220.50" fill="none" stroke="#3cb0ea" stroke-width="1.25" stroke-linejoin="miter"/>
<polygon points="83.28,215.99 85.58,219.29 80.98,219.29" fill="none" stroke="#3cb0ea" stroke-width="1.25" stroke-linejoin="miter"/>
<polygon points="90.35,213.57 92.65,216.87 88.05,216.87" fill="none" stroke="#3cb0ea" stroke-width="1.25" stroke-linejoin="miter"/>
<polygon points="98.02,221.24 100.32,224.54 95.72,224.54" fill="none" stroke="#3cb0ea" stroke-width="1.25" stroke-linejoin="miter"/>
<polygon points="106.90,224.68 109.20,227.97 104.60,227.97" fill="none" stroke="#3cb0ea" stroke-width="1.25" stroke-linejoin="miter"/>
<polygon points="116.60,228.71 118.90,232.01 114.30,232.01" fill="none" stroke="#3cb0ea" stroke-width="1.25" stroke-linejoin="miter"/>
<polygon points="127.70,229.72 130.00,233.02 125.40,233.02" fill="none" stroke="#3cb0ea" stroke-width="1.25" stroke-linejoin="miter"/>
<polygon points="133.76,233.76 136.06,237.06 131.46,237.06" fill="none" stroke="#3cb0ea" stroke-width="1.25" stroke-linejoin="miter"/>
<circle cx="68.13" cy="221.33" r="2.05" fill="none" stroke="#f00" stroke-width="1.35"/>
<circle cx="77.22" cy="220.92" r="2.05" fill="none" stroke="#f00" stroke-width="1.35"/>
<circle cx="83.28" cy="219.71" r="2.05" fill="none" stroke="#f00" stroke-width="1.35"/>
<circle cx="90.35" cy="217.89" r="2.05" fill="none" stroke="#f00" stroke-width="1.35"/>
<circle cx="98.02" cy="222.34" r="2.05" fill="none" stroke="#f00" stroke-width="1.35"/>
<circle cx="106.90" cy="225.97" r="2.05" fill="none" stroke="#f00" stroke-width="1.35"/>
<circle cx="118.62" cy="224.96" r="2.05" fill="none" stroke="#f00" stroke-width="1.35"/>
<circle cx="127.70" cy="233.04" r="2.05" fill="none" stroke="#f00" stroke-width="1.35"/>
<circle cx="133.76" cy="233.04" r="2.05" fill="none" stroke="#f00" stroke-width="1.35"/>
<polyline points="172.29,239.04 173.76,239.39 174.65,238.28 175.96,237.44 176.82,236.38 177.62,235.56 180.28,235.61 182.19,234.56 183.90,234.34 185.90,235.04 187.94,235.37 189.95,235.92 191.19,235.56 192.77,235.66 194.32,235.28 195.91,235.29 197.36,234.78 198.78,234.88 200.50,234.73 201.75,235.03 203.31,234.58 205.36,234.58 207.14,234.02 208.58,234.49 209.88,234.44 211.28,234.84 212.71,234.83 214.35,235.59 215.77,235.78 217.51,236.57 219.13,237.02 220.44,237.59 221.52,237.56 223.04,238.08 224.41,238.20 226.20,238.88 227.42,238.94 228.56,239.61 229.82,239.69 231.40,240.28 232.78,240.39 233.94,240.98 235.37,241.01 236.63,241.66 238.03,241.74 239.45,242.14 240.64,242.18 241.98,242.61 243.17,242.52 244.51,243.00 245.81,242.83 247.46,243.23 248.75,243.11 250.10,243.42 251.23,242.94 252.63,243.08 254.14,242.69 255.57,243.08 257.14,243.10 258.32,243.05 259.87,242.31 261.69,242.13 262.80,241.45 264.38,240.72 266.04,239.70 267.94,238.54 270.20,237.30" fill="none" stroke="#383838" stroke-width="1.15" stroke-linejoin="round" />
<polygon points="179.69,221.24 181.99,224.54 177.39,224.54" fill="none" stroke="#3cb0ea" stroke-width="1.25" stroke-linejoin="miter"/>
<polygon points="181.71,220.64 184.01,223.94 179.41,223.94" fill="none" stroke="#3cb0ea" stroke-width="1.25" stroke-linejoin="miter"/>
<polygon points="192.62,219.63 194.92,222.93 190.32,222.93" fill="none" stroke="#3cb0ea" stroke-width="1.25" stroke-linejoin="miter"/>
<polygon points="202.31,221.24 204.61,224.54 200.01,224.54" fill="none" stroke="#3cb0ea" stroke-width="1.25" stroke-linejoin="miter"/>
<polygon points="210.38,224.07 212.68,227.37 208.08,227.37" fill="none" stroke="#3cb0ea" stroke-width="1.25" stroke-linejoin="miter"/>
<polygon points="217.45,228.71 219.75,232.01 215.15,232.01" fill="none" stroke="#3cb0ea" stroke-width="1.25" stroke-linejoin="miter"/>
<polygon points="226.94,231.34 229.24,234.64 224.64,234.64" fill="none" stroke="#3cb0ea" stroke-width="1.25" stroke-linejoin="miter"/>
<polygon points="232.60,233.16 234.90,236.46 230.30,236.46" fill="none" stroke="#3cb0ea" stroke-width="1.25" stroke-linejoin="miter"/>
<polygon points="240.67,236.79 242.97,240.09 238.37,240.09" fill="none" stroke="#3cb0ea" stroke-width="1.25" stroke-linejoin="miter"/>
<polygon points="250.77,235.78 253.07,239.08 248.47,239.08" fill="none" stroke="#3cb0ea" stroke-width="1.25" stroke-linejoin="miter"/>
<polygon points="258.85,233.36 261.15,236.66 256.55,236.66" fill="none" stroke="#3cb0ea" stroke-width="1.25" stroke-linejoin="miter"/>
<polygon points="265.91,231.34 268.21,234.64 263.61,234.64" fill="none" stroke="#3cb0ea" stroke-width="1.25" stroke-linejoin="miter"/>
<circle cx="187.57" cy="221.93" r="2.05" fill="none" stroke="#f00" stroke-width="1.35"/>
<circle cx="193.22" cy="223.35" r="2.05" fill="none" stroke="#f00" stroke-width="1.35"/>
<circle cx="202.31" cy="223.95" r="2.05" fill="none" stroke="#f00" stroke-width="1.35"/>
<circle cx="210.38" cy="228.39" r="2.05" fill="none" stroke="#f00" stroke-width="1.35"/>
<circle cx="217.45" cy="231.02" r="2.05" fill="none" stroke="#f00" stroke-width="1.35"/>
<circle cx="226.94" cy="234.45" r="2.05" fill="none" stroke="#f00" stroke-width="1.35"/>
<circle cx="234.62" cy="237.88" r="2.05" fill="none" stroke="#f00" stroke-width="1.35"/>
<circle cx="241.68" cy="239.50" r="2.05" fill="none" stroke="#f00" stroke-width="1.35"/>
<circle cx="251.17" cy="237.88" r="2.05" fill="none" stroke="#f00" stroke-width="1.35"/>
<circle cx="258.44" cy="237.08" r="2.05" fill="none" stroke="#f00" stroke-width="1.35"/>
<circle cx="266.32" cy="234.05" r="2.05" fill="none" stroke="#f00" stroke-width="1.35"/>
<polyline points="288.63,241.82 288.73,243.63 288.93,244.74 288.96,246.62 289.01,247.84 289.15,246.79 289.70,244.90 289.81,246.72 289.79,247.85 290.07,249.69 290.42,247.52 290.55,246.25 291.49,248.21 291.70,247.10 291.80,245.38 292.53,247.15 292.65,248.22 293.23,246.21 293.97,247.70 294.63,245.77 295.16,246.86 295.97,245.10 296.60,243.74 296.76,242.83 296.94,241.13 296.93,240.04 297.04,238.39 297.91,239.61 298.02,240.74 298.68,242.68 299.17,239.86 299.51,241.72 299.87,242.88 300.58,241.12 301.56,239.74 302.61,238.69 303.44,236.82 304.30,236.24 305.93,236.34 307.17,236.35 308.70,235.66 310.15,235.73 311.40,235.07 313.16,235.25 314.54,234.72 316.00,234.79 317.46,234.76 319.03,235.52 320.50,235.51 321.98,236.34 323.17,236.39 324.20,237.24 325.42,237.37 326.64,238.22 328.20,238.28 329.18,239.31 330.40,239.49 331.69,240.62 332.88,240.69 334.06,241.83 335.06,241.83 336.45,242.79 337.66,242.73 338.93,243.75 340.12,243.61 341.47,244.86 343.09,244.63 344.32,245.88 346.11,245.61 347.53,246.53 348.73,246.51 350.04,247.38 351.38,246.58 352.83,246.77 354.38,246.25 356.20,246.57 357.12,246.54 358.34,247.80 359.37,247.89 360.86,247.53 362.21,246.17 363.75,245.78 365.09,246.04 366.55,247.50 367.45,246.18 368.68,245.78 369.96,244.61 371.38,244.38 372.41,242.99 373.67,244.63 374.74,245.19 375.94,246.82 376.99,247.25 377.99,248.75 378.70,246.93 379.37,246.23 379.99,244.36 380.70,243.82 380.83,244.64 381.63,246.62 381.93,247.79 382.60,249.79 383.16,247.58 383.87,246.15 384.42,244.12 384.49,243.26 385.08,241.29 385.23,240.11 385.50,238.40" fill="none" stroke="#000" stroke-width="1.50" stroke-linejoin="round" />
<polygon points="293.07,226.29 295.37,229.59 290.77,229.59" fill="none" stroke="#3cb0ea" stroke-width="1.25" stroke-linejoin="miter"/>
<polygon points="298.12,233.36 300.42,236.66 295.82,236.66" fill="none" stroke="#3cb0ea" stroke-width="1.25" stroke-linejoin="miter"/>
<polygon points="303.57,225.68 305.87,228.98 301.27,228.98" fill="none" stroke="#3cb0ea" stroke-width="1.25" stroke-linejoin="miter"/>
<polygon points="311.24,224.27 313.54,227.57 308.94,227.57" fill="none" stroke="#3cb0ea" stroke-width="1.25" stroke-linejoin="miter"/>
<polygon points="316.69,224.07 318.99,227.37 314.39,227.37" fill="none" stroke="#3cb0ea" stroke-width="1.25" stroke-linejoin="miter"/>
<polygon points="321.94,230.73 324.24,234.03 319.64,234.03" fill="none" stroke="#3cb0ea" stroke-width="1.25" stroke-linejoin="miter"/>
<polygon points="328.81,235.78 331.11,239.08 326.51,239.08" fill="none" stroke="#3cb0ea" stroke-width="1.25" stroke-linejoin="miter"/>
<polygon points="342.54,239.42 344.84,242.72 340.24,242.72" fill="none" stroke="#3cb0ea" stroke-width="1.25" stroke-linejoin="miter"/>
<polygon points="348.60,243.86 350.90,247.16 346.30,247.16" fill="none" stroke="#3cb0ea" stroke-width="1.25" stroke-linejoin="miter"/>
<polygon points="350.21,238.20 352.51,241.50 347.91,241.50" fill="none" stroke="#3cb0ea" stroke-width="1.25" stroke-linejoin="miter"/>
<polygon points="356.27,239.42 358.57,242.72 353.97,242.72" fill="none" stroke="#3cb0ea" stroke-width="1.25" stroke-linejoin="miter"/>
<polygon points="370.40,235.78 372.70,239.08 368.10,239.08" fill="none" stroke="#3cb0ea" stroke-width="1.25" stroke-linejoin="miter"/>
<circle cx="292.66" cy="235.46" r="2.05" fill="none" stroke="#f00" stroke-width="1.35"/>
<circle cx="303.57" cy="230.01" r="2.05" fill="none" stroke="#f00" stroke-width="1.35"/>
<circle cx="310.63" cy="231.02" r="2.05" fill="none" stroke="#f00" stroke-width="1.35"/>
<circle cx="316.69" cy="225.97" r="2.05" fill="none" stroke="#f00" stroke-width="1.35"/>
<circle cx="321.94" cy="229.40" r="2.05" fill="none" stroke="#f00" stroke-width="1.35"/>
<circle cx="329.41" cy="234.05" r="2.05" fill="none" stroke="#f00" stroke-width="1.35"/>
<circle cx="343.14" cy="241.92" r="2.05" fill="none" stroke="#f00" stroke-width="1.35"/>
<circle cx="350.21" cy="241.92" r="2.05" fill="none" stroke="#f00" stroke-width="1.35"/>
<circle cx="356.07" cy="238.09" r="2.05" fill="none" stroke="#f00" stroke-width="1.35"/>
<circle cx="370.81" cy="234.45" r="2.05" fill="none" stroke="#f00" stroke-width="1.35"/>
<polyline points="404.58,240.93 406.07,239.36 406.85,238.28 407.67,237.47 409.05,236.54 410.04,235.98 412.04,236.07 414.18,234.95 416.19,234.15 417.96,234.65 419.21,234.94 420.81,235.57 422.13,235.51 423.51,235.82 425.11,235.36 426.57,235.52 428.00,235.05 429.28,235.13 430.80,234.67 432.04,234.86 433.26,234.61 434.68,234.77 436.31,234.58 438.24,235.06 440.18,235.02 441.80,234.39 444.06,235.37 445.54,236.12 446.63,236.35 448.61,236.90 450.03,236.99 451.79,237.67 452.85,237.81 454.74,238.87 456.47,239.57 457.82,240.62 459.33,240.94 460.95,241.85 462.40,242.28 463.89,243.20 465.64,243.68 466.82,244.78 468.68,246.18 470.94,247.37 472.54,246.30 474.99,245.77 476.66,245.67 477.92,245.85 479.24,245.19 480.70,244.91 482.45,244.21 484.38,243.90 485.68,243.46 486.97,243.46 488.71,242.82 489.90,242.56 491.53,241.82 492.75,241.58 494.45,240.79 495.72,240.51 497.02,239.85 498.80,239.75 500.60,239.30" fill="none" stroke="#000" stroke-width="1.15" stroke-linejoin="round" />
<polygon points="405.63,229.72 407.93,233.02 403.33,233.02" fill="none" stroke="#3cb0ea" stroke-width="1.25" stroke-linejoin="miter"/>
<polygon points="413.71,226.69 416.01,229.99 411.41,229.99" fill="none" stroke="#3cb0ea" stroke-width="1.25" stroke-linejoin="miter"/>
<polygon points="423.20,221.65 425.50,224.95 420.90,224.95" fill="none" stroke="#3cb0ea" stroke-width="1.25" stroke-linejoin="miter"/>
<polygon points="430.27,223.26 432.57,226.56 427.97,226.56" fill="none" stroke="#3cb0ea" stroke-width="1.25" stroke-linejoin="miter"/>
<polygon points="438.95,225.68 441.25,228.98 436.65,228.98" fill="none" stroke="#3cb0ea" stroke-width="1.25" stroke-linejoin="miter"/>
<polygon points="447.43,233.16 449.73,236.46 445.13,236.46" fill="none" stroke="#3cb0ea" stroke-width="1.25" stroke-linejoin="miter"/>
<polygon points="456.12,236.79 458.42,240.09 453.82,240.09" fill="none" stroke="#3cb0ea" stroke-width="1.25" stroke-linejoin="miter"/>
<polygon points="462.17,238.20 464.47,241.50 459.87,241.50" fill="none" stroke="#3cb0ea" stroke-width="1.25" stroke-linejoin="miter"/>
<polygon points="469.24,239.42 471.54,242.72 466.94,242.72" fill="none" stroke="#3cb0ea" stroke-width="1.25" stroke-linejoin="miter"/>
<polygon points="483.78,239.82 486.08,243.12 481.48,243.12" fill="none" stroke="#3cb0ea" stroke-width="1.25" stroke-linejoin="miter"/>
<circle cx="406.04" cy="233.44" r="2.05" fill="none" stroke="#f00" stroke-width="1.35"/>
<circle cx="423.20" cy="225.37" r="2.05" fill="none" stroke="#f00" stroke-width="1.35"/>
<circle cx="430.27" cy="226.38" r="2.05" fill="none" stroke="#f00" stroke-width="1.35"/>
<circle cx="438.95" cy="228.80" r="2.05" fill="none" stroke="#f00" stroke-width="1.35"/>
<circle cx="447.43" cy="239.10" r="2.05" fill="none" stroke="#f00" stroke-width="1.35"/>
<circle cx="456.12" cy="236.47" r="2.05" fill="none" stroke="#f00" stroke-width="1.35"/>
<circle cx="462.17" cy="241.12" r="2.05" fill="none" stroke="#f00" stroke-width="1.35"/>
<circle cx="469.24" cy="244.14" r="2.05" fill="none" stroke="#f00" stroke-width="1.35"/>
<circle cx="483.78" cy="244.14" r="2.05" fill="none" stroke="#f00" stroke-width="1.35"/>
<polyline points="56.59,284.52 58.07,285.44 59.05,285.92 60.41,286.77 62.08,286.51 63.52,286.91 64.86,286.65 66.36,287.03 67.82,286.58 69.33,287.00 70.81,286.60 72.39,286.78 73.45,286.41 75.00,286.69 76.86,286.36 78.18,286.75 79.85,286.47 81.72,286.77 83.41,286.65 84.87,287.02 86.81,286.75 88.74,287.16 90.10,287.14 91.69,287.69 93.24,287.48 94.44,288.04 96.00,287.86 97.20,288.32 98.72,288.19 100.32,288.66 101.61,288.41 103.37,288.93 104.89,288.75 106.56,289.01 108.04,288.53 109.67,288.80 111.25,288.14 113.00,288.12 114.52,287.44 116.01,287.52 117.54,286.96 118.97,287.24 120.27,286.56 121.95,286.74 123.70,286.23 125.00,286.42 126.91,285.97 128.30,285.98 129.82,285.52 131.79,285.65 133.20,285.02 134.73,285.01 136.38,284.69 137.59,285.12 139.14,284.84 140.51,285.34 142.21,285.12 143.42,285.58 144.86,285.23 146.41,285.80 148.28,285.59 149.91,285.92 151.61,285.68 152.92,286.13 154.60,286.00" fill="none" stroke="#383838" stroke-width="1.15" stroke-linejoin="round" />
<circle cx="66.52" cy="288.17" r="2.05" fill="none" stroke="#f00" stroke-width="1.35"/>
<circle cx="116.60" cy="288.78" r="2.05" fill="none" stroke="#f00" stroke-width="1.35"/>
<polygon points="109.53,288.10 111.53,290.80 109.53,293.50 107.53,290.80" fill="none" stroke="#0000ff" stroke-width="1.55"/>
<polygon points="130.33,284.26 132.33,286.96 130.33,289.66 128.33,286.96" fill="none" stroke="#0000ff" stroke-width="1.55"/>
<polyline points="172.33,284.30 173.91,284.81 175.12,284.40 176.52,284.68 178.17,284.42 179.44,284.74 180.69,284.49 182.25,284.96 183.27,284.66 184.67,285.15 186.28,284.68 187.63,285.26 189.03,284.82 190.09,285.41 191.53,284.94 192.91,285.41 194.18,285.09 195.50,285.42 197.05,285.09 198.46,285.62 199.64,285.18 200.82,285.70 202.29,285.38 203.53,285.75 204.90,285.40 206.39,285.80 207.54,285.48 208.93,285.85 210.26,285.58 211.56,286.02 213.26,285.67 214.51,286.17 215.59,285.81 217.24,286.24 218.52,285.90 219.77,286.34 221.31,285.85 222.38,286.42 223.80,285.85 225.05,286.31 226.58,285.71 227.77,286.10 229.26,285.60 230.52,285.99 231.86,285.46 233.14,285.71 234.46,285.21 235.79,285.44 237.33,284.87 238.47,285.12 239.94,284.70 241.15,284.97 242.54,284.39 243.95,284.62 245.22,284.08 246.68,284.40 247.88,283.84 249.42,284.16 250.78,283.54 252.18,283.75 253.27,283.27 254.97,283.57 256.06,283.23 257.64,283.74 258.88,283.57 260.09,284.02 261.42,283.84 262.70,284.31 264.13,284.21 265.75,284.87 267.23,284.97 268.53,285.63 269.95,285.75" fill="none" stroke="#383838" stroke-width="1.15" stroke-linejoin="round" />
<circle cx="182.12" cy="286.56" r="2.05" fill="none" stroke="#f00" stroke-width="1.35"/>
<circle cx="232.19" cy="285.14" r="2.05" fill="none" stroke="#f00" stroke-width="1.35"/>
<polygon points="224.52,283.86 226.52,286.56 224.52,289.26 222.52,286.56" fill="none" stroke="#0000ff" stroke-width="1.55"/>
<polygon points="244.71,281.43 246.71,284.13 244.71,286.83 242.71,284.13" fill="none" stroke="#0000ff" stroke-width="1.55"/>
<polygon points="252.79,280.63 254.79,283.33 252.79,286.03 250.79,283.33" fill="none" stroke="#0000ff" stroke-width="1.55"/>
<polyline points="288.44,281.22 290.96,280.44 292.36,280.33 294.09,280.61 295.62,280.68 296.86,281.76 297.95,282.45 299.71,282.63 300.90,282.43 302.25,283.28 303.42,283.65 305.67,283.69 307.08,283.50 308.50,283.88 310.29,283.75 311.90,284.15 313.34,283.87 314.97,284.29 316.54,284.11 317.97,284.49 319.85,284.34 320.90,284.58 322.24,284.14 323.68,284.37 325.13,284.11 326.51,284.18 328.30,283.91 329.81,283.99 331.49,283.36 333.21,283.35 334.79,282.95 336.44,283.09 337.99,282.78 339.65,282.99 340.83,282.50 342.41,282.74 343.47,282.33 345.18,282.65 346.61,282.29 348.51,282.55 349.92,282.29 351.72,282.49 353.24,282.12 354.81,282.33 356.86,281.99 358.25,282.37 359.94,281.98 361.48,282.43 363.21,282.45 365.15,282.92 366.30,282.56 367.97,282.81 369.30,282.48 370.62,282.74 372.18,282.29 373.60,282.47 375.15,281.86 376.98,281.92 378.51,281.37 379.87,281.76 380.90,281.51 382.99,281.68 384.41,282.56 385.80,283.60" fill="none" stroke="#000" stroke-width="1.25" stroke-linejoin="round" />
<circle cx="348.50" cy="280.70" r="2.05" fill="none" stroke="#f00" stroke-width="1.35"/>
<polygon points="341.12,276.51 343.12,279.21 341.12,281.91 339.12,279.21" fill="none" stroke="#0000ff" stroke-width="1.55"/>
<polygon points="360.91,276.18 362.91,278.88 360.91,281.58 358.91,278.88" fill="none" stroke="#0000ff" stroke-width="1.55"/>
<polygon points="361.72,279.09 363.72,281.79 361.72,284.49 359.72,281.79" fill="none" stroke="#0000ff" stroke-width="1.55"/>
<polygon points="363.94,280.83 365.94,283.53 363.94,286.23 361.94,283.53" fill="none" stroke="#0000ff" stroke-width="1.55"/>
<polygon points="369.80,279.09 371.80,281.79 369.80,284.49 367.80,281.79" fill="none" stroke="#0000ff" stroke-width="1.55"/>
<polyline points="404.61,285.05 405.93,285.22 407.44,284.95 408.82,285.23 410.22,284.64 411.32,285.15 412.85,284.88 414.02,285.21 415.60,284.85 416.93,285.30 418.32,285.01 419.39,285.44 420.81,285.19 422.22,285.51 423.57,285.09 424.94,285.58 426.38,285.13 427.57,285.74 428.73,285.36 430.14,285.79 431.69,285.29 432.88,285.76 434.46,285.48 435.50,285.72 436.99,285.38 438.37,285.84 439.69,285.57 441.22,285.89 442.28,285.59 443.86,285.95 445.24,285.68 446.40,285.99 447.93,285.67 449.11,286.09 450.46,285.85 451.94,286.35 453.25,285.96 454.32,286.43 456.02,285.96 457.19,286.21 458.73,285.85 459.71,286.15 461.26,285.63 462.69,285.96 464.00,285.51 465.10,285.64 466.55,285.22 467.91,285.51 469.36,285.01 470.69,285.30 472.13,284.72 473.50,285.09 474.50,284.41 475.98,284.64 477.39,284.18 478.63,284.43 480.01,283.79 481.50,284.16 482.70,283.72 484.20,284.03 485.29,283.67 486.95,283.97 488.00,283.60 489.53,284.16 491.00,284.02 492.03,284.43 493.63,284.20 494.88,284.82 496.36,284.69 497.72,285.60 499.29,285.52 500.94,286.15" fill="none" stroke="#383838" stroke-width="1.15" stroke-linejoin="round" />
<circle cx="414.12" cy="285.14" r="2.05" fill="none" stroke="#f00" stroke-width="1.35"/>
<circle cx="463.59" cy="283.73" r="2.05" fill="none" stroke="#f00" stroke-width="1.35"/>
<polygon points="455.91,283.45 457.91,286.15 455.91,288.85 453.91,286.15" fill="none" stroke="#0000ff" stroke-width="1.55"/>
<polygon points="476.11,282.44 478.11,285.14 476.11,287.84 474.11,285.14" fill="none" stroke="#0000ff" stroke-width="1.55"/>
<polyline points="56.37,368.48 57.80,369.08 59.21,368.63 60.57,369.33 61.88,368.93 63.36,369.36 64.87,369.06 66.23,369.72 67.36,369.03 68.93,369.78 69.96,369.29 71.55,369.81 72.74,369.47 74.10,370.08 75.48,369.49 76.94,370.10 78.15,369.57 79.77,370.04 81.04,369.41 82.16,369.82 83.54,369.40 84.79,369.95 86.40,369.50 87.79,369.86 89.17,369.34 90.46,369.83 91.74,369.31 92.85,369.71 94.28,369.30 95.75,369.81 97.28,369.31 98.55,369.80 100.22,369.20 101.51,369.89 102.76,369.39 104.12,369.69 105.50,369.24 107.27,369.69 108.59,369.16 110.07,369.64 111.46,369.23 112.72,369.49 114.30,368.93 115.57,369.41 117.13,369.06 118.60,369.46 119.95,368.94 121.12,369.18 122.72,368.55 124.00,369.01 125.23,368.56 126.54,368.88 128.01,368.27 129.28,368.90 130.88,368.19 131.97,368.50 133.49,367.87 134.91,368.30 136.09,368.10 137.38,368.53 138.66,368.29 140.35,368.73 141.50,368.36 142.84,369.02 144.19,368.56 145.37,369.21 146.95,368.68 148.16,369.34 149.70,368.86 150.74,369.48 152.14,369.04 153.58,369.68 154.96,369.54" fill="none" stroke="#383838" stroke-width="1.15" stroke-linejoin="round" />
<circle cx="66.52" cy="369.54" r="2.05" fill="none" stroke="#f00" stroke-width="1.35"/>
<circle cx="116.60" cy="367.52" r="2.05" fill="none" stroke="#f00" stroke-width="1.35"/>
<polygon points="109.53,366.43 111.53,369.13 109.53,371.83 107.53,369.13" fill="none" stroke="#0000ff" stroke-width="1.55"/>
<polygon points="130.33,362.40 132.33,365.10 130.33,367.80 128.33,365.10" fill="none" stroke="#0000ff" stroke-width="1.55"/>
<polyline points="172.43,368.47 174.14,368.80 175.60,368.33 177.09,368.60 178.37,368.24 180.19,368.47 181.54,368.11 183.12,368.50 184.38,367.85 185.69,368.36 187.46,367.92 188.83,368.19 190.37,367.79 191.55,368.17 192.94,367.71 194.06,368.13 195.57,367.52 196.78,368.05 198.39,367.48 199.42,367.90 200.78,367.46 202.25,367.97 203.60,367.40 205.15,367.77 206.37,367.31 207.70,367.74 208.95,367.29 210.26,367.74 211.75,367.31 212.93,367.75 214.59,367.36 215.70,367.80 217.15,367.37 218.27,367.77 219.75,367.33 221.06,367.74 222.59,367.36 223.68,367.75 225.36,367.29 226.56,367.55 227.85,367.01 229.41,367.40 230.53,366.98 231.82,367.07 233.11,366.64 234.75,366.81 236.08,366.16 237.43,366.37 238.82,366.00 240.11,366.27 241.41,365.73 242.52,365.91 244.09,365.56 245.40,365.75 246.60,365.35 248.17,365.79 249.38,365.51 250.79,366.00 252.09,365.61 253.56,366.14 254.73,365.98 256.10,366.44 257.60,366.37 258.82,367.09 260.12,366.84 261.71,367.49 262.93,367.35 264.50,368.09 265.63,368.00 267.16,368.69 268.55,368.68 269.95,369.13" fill="none" stroke="#383838" stroke-width="1.15" stroke-linejoin="round" />
<circle cx="182.12" cy="366.51" r="2.05" fill="none" stroke="#f00" stroke-width="1.35"/>
<circle cx="232.60" cy="364.49" r="2.05" fill="none" stroke="#f00" stroke-width="1.35"/>
<polygon points="224.52,362.80 226.52,365.50 224.52,368.20 222.52,365.50" fill="none" stroke="#0000ff" stroke-width="1.55"/>
<polygon points="245.12,360.38 247.12,363.08 245.12,365.78 243.12,363.08" fill="none" stroke="#0000ff" stroke-width="1.55"/>
<polygon points="252.79,361.39 254.79,364.09 252.79,366.79 250.79,364.09" fill="none" stroke="#0000ff" stroke-width="1.55"/>
<polyline points="288.47,366.52 290.23,366.77 292.00,366.67 293.33,366.92 294.57,366.70 296.08,366.91 298.07,366.11 300.15,366.79 302.29,367.11 303.94,366.89 305.18,366.15 307.02,366.69 308.32,366.58 309.80,367.15 311.55,366.66 313.35,367.01 315.01,366.58 316.71,366.83 318.18,366.44 320.17,366.60 321.74,366.11 323.20,366.21 325.07,365.75 326.63,366.23 328.17,366.04 330.04,366.57 331.27,366.25 332.80,366.70 333.84,366.50 335.19,366.76 336.73,366.56 337.88,367.03 339.45,366.51 340.93,366.83 342.21,366.31 343.45,366.68 345.15,366.24 346.79,366.44 348.30,366.14 349.96,366.40 351.52,365.93 353.47,366.06 354.85,365.55 356.68,365.68 358.36,365.30 359.87,365.40 361.73,365.02 363.34,365.31 364.98,365.01 366.77,365.28 368.30,364.89 370.04,365.16 371.63,364.87 373.50,365.30 374.87,365.09 376.85,365.80 378.25,365.81 380.13,366.44 381.60,366.32 383.19,366.93 384.57,367.32 385.80,368.00" fill="none" stroke="#000" stroke-width="1.20" stroke-linejoin="round" />
<circle cx="298.12" cy="365.50" r="2.05" fill="none" stroke="#f00" stroke-width="1.35"/>
<polygon points="340.92,362.80 342.92,365.50 340.92,368.20 338.92,365.50" fill="none" stroke="#0000ff" stroke-width="1.55"/>
<polygon points="361.12,361.39 363.12,364.09 361.12,366.79 359.12,364.09" fill="none" stroke="#0000ff" stroke-width="1.55"/>
<polygon points="364.35,362.40 366.35,365.10 364.35,367.80 362.35,365.10" fill="none" stroke="#0000ff" stroke-width="1.55"/>
<polygon points="370.00,361.39 372.00,364.09 370.00,366.79 368.00,364.09" fill="none" stroke="#0000ff" stroke-width="1.55"/>
<polyline points="404.49,369.28 406.25,369.13 408.02,368.03 409.39,368.45 410.79,368.18 412.23,368.47 413.55,368.17 415.05,368.54 416.42,368.22 417.83,368.53 419.32,368.08 420.90,368.50 422.03,368.08 423.64,368.47 424.95,368.12 426.40,368.51 427.69,367.93 428.82,368.40 430.36,367.91 431.57,368.26 433.01,368.00 434.39,368.18 435.64,367.87 436.85,368.22 438.35,367.84 439.85,368.25 441.19,367.81 442.19,368.09 443.58,367.73 444.98,368.13 446.34,367.88 447.86,368.29 449.04,367.92 450.28,368.33 451.88,367.99 452.99,368.39 454.50,368.10 455.65,368.37 457.10,367.95 458.41,368.07 459.87,367.67 461.28,367.93 462.65,367.41 463.98,367.61 465.07,367.08 466.68,367.40 468.13,366.77 469.34,367.14 470.54,366.51 471.82,366.86 473.41,366.38 474.57,366.61 476.14,366.19 477.31,366.40 478.64,365.83 480.17,366.50 481.48,366.07 482.68,366.60 484.09,366.32 485.29,366.88 486.67,366.53 488.33,367.14 489.65,367.04 490.83,367.59 492.12,367.49 493.52,368.16 495.07,368.02 496.47,368.68 497.88,368.73 499.37,369.34 500.94,369.54" fill="none" stroke="#383838" stroke-width="1.15" stroke-linejoin="round" />
<circle cx="414.12" cy="367.52" r="2.05" fill="none" stroke="#f00" stroke-width="1.35"/>
<circle cx="463.59" cy="366.71" r="2.05" fill="none" stroke="#f00" stroke-width="1.35"/>
<polygon points="455.91,365.83 457.91,368.53 455.91,371.23 453.91,368.53" fill="none" stroke="#0000ff" stroke-width="1.55"/>
<polygon points="476.31,361.39 478.31,364.09 476.31,366.79 474.31,364.09" fill="none" stroke="#0000ff" stroke-width="1.55"/>
<polyline points="56.76,496.32 58.11,495.39 59.70,493.63 61.66,493.49 62.73,494.06 65.06,494.40 65.94,493.37 67.28,492.72 68.88,491.70 70.61,492.01 71.87,491.85 73.47,491.73 74.63,491.06 76.05,491.04 77.54,490.58 79.01,490.66 80.87,490.22 82.71,490.26 84.49,489.66 85.70,489.46 87.31,488.70 88.55,488.35 89.94,487.33 90.96,486.85 93.02,485.88 94.87,485.99 97.05,486.14 98.55,486.39 99.74,486.12 101.44,486.38 102.97,486.10 104.64,486.64 106.15,486.72 108.06,487.33 109.49,487.29 110.81,488.08 112.02,488.01 113.50,488.65 115.03,488.71 116.47,489.19 117.54,489.31 118.96,489.83 120.17,490.02 121.69,490.66 123.05,490.83 124.77,491.43 125.50,490.27 126.45,489.45 127.76,490.18 128.88,491.19 130.62,491.65 132.55,492.69 133.83,492.67 135.18,493.19 136.71,493.03 138.36,493.63 139.60,493.62 141.17,494.09 142.66,493.97 144.35,494.64 145.81,494.33 147.29,494.79 148.78,494.44 150.37,494.60 152.61,493.41 154.60,493.10" fill="none" stroke="#000" stroke-width="1.20" stroke-linejoin="round" />
<circle cx="66.52" cy="485.14" r="2.05" fill="none" stroke="#f00" stroke-width="1.35"/>
<circle cx="116.60" cy="480.50" r="2.05" fill="none" stroke="#f00" stroke-width="1.35"/>
<polygon points="109.53,475.98 111.53,478.68 109.53,481.38 107.53,478.68" fill="none" stroke="#0000ff" stroke-width="1.55"/>
<polygon points="130.33,477.40 132.33,480.10 130.33,482.80 128.33,480.10" fill="none" stroke="#0000ff" stroke-width="1.55"/>
<polygon points="130.33,500.21 132.33,502.91 130.33,505.61 128.33,502.91" fill="none" stroke="#0000ff" stroke-width="1.55"/>
<polyline points="172.17,493.32 173.95,494.36 175.69,494.91 176.92,494.02 177.80,492.85 178.55,492.07 179.73,491.05 181.47,490.78 182.89,490.23 184.50,490.26 185.75,489.75 186.71,489.81 188.33,489.47 189.95,489.51 191.06,489.08 192.35,489.29 193.78,488.81 195.04,488.93 196.87,488.53 199.05,488.49 200.31,487.98 201.69,487.92 202.90,487.23 204.28,486.96 205.55,486.07 208.13,485.29 209.62,485.07 210.86,485.41 212.58,485.59 214.50,486.21 216.01,485.43 217.74,485.95 219.10,485.87 220.57,486.21 221.89,485.95 223.52,486.60 224.87,486.72 226.61,487.22 228.27,487.12 229.92,487.57 231.49,487.49 233.44,487.95 235.07,487.85 236.83,488.46 238.30,488.33 240.18,488.94 241.49,488.90 242.62,489.36 244.15,489.42 245.16,489.84 246.78,489.71 248.13,490.07 249.24,490.40 250.63,491.08 251.83,491.39 253.49,492.03 254.77,492.04 255.90,492.69 257.51,492.81 258.81,493.47 261.14,493.91 263.15,492.87 264.47,492.21 266.14,491.88 267.41,491.39 268.91,491.18 270.20,490.80" fill="none" stroke="#383838" stroke-width="1.15" stroke-linejoin="round" />
<circle cx="182.12" cy="482.12" r="2.05" fill="none" stroke="#f00" stroke-width="1.35"/>
<circle cx="232.60" cy="483.12" r="2.05" fill="none" stroke="#f00" stroke-width="1.35"/>
<polygon points="224.52,479.42 226.52,482.12 224.52,484.82 222.52,482.12" fill="none" stroke="#0000ff" stroke-width="1.55"/>
<polygon points="244.71,481.03 246.71,483.73 244.71,486.43 242.71,483.73" fill="none" stroke="#0000ff" stroke-width="1.55"/>
<polygon points="244.71,490.52 246.71,493.22 244.71,495.92 242.71,493.22" fill="none" stroke="#0000ff" stroke-width="1.55"/>
<polygon points="252.79,485.47 254.79,488.17 252.79,490.87 250.79,488.17" fill="none" stroke="#0000ff" stroke-width="1.55"/>
<polyline points="288.78,495.92 288.86,497.75 289.37,498.88 290.56,500.27 292.16,499.27 293.68,500.76 295.04,499.02 296.37,500.38 296.62,498.22 296.92,496.86 296.92,494.91 297.44,493.39 297.78,491.33 298.68,493.71 299.08,495.03 299.40,497.29 300.42,494.75 302.18,493.23 302.61,491.49 303.57,490.63 304.32,488.10 305.81,490.08 308.00,489.04 309.96,489.81 311.67,488.54 312.95,488.28 314.42,488.11 316.02,489.04 318.07,488.23 319.34,488.30 320.94,487.06 322.46,488.33 324.18,488.34 325.96,487.15 328.16,487.43 330.02,488.42 331.43,488.85 332.88,490.16 334.01,490.57 335.06,492.22 336.08,492.83 337.96,494.44 340.17,492.19 341.14,493.82 342.01,494.15 344.20,493.41 345.14,493.94 346.36,495.82 346.96,493.92 347.44,493.24 347.76,491.34 348.55,490.36 349.87,490.76 351.97,492.15 353.32,491.46 354.94,491.61 356.14,492.11 357.65,493.13 358.91,491.89 360.99,491.13 362.94,490.26 364.67,491.27 365.82,491.33 367.64,491.35 368.88,490.81 370.60,491.40 372.39,491.11 373.55,492.81 374.91,493.86 376.57,495.18 378.16,495.62 379.82,495.32 380.94,496.10 381.79,497.63 382.51,495.89 383.05,494.80 383.61,495.73 383.95,497.35 384.34,498.33 384.81,497.37 384.91,495.77 385.11,494.85 385.68,493.17 385.80,492.00" fill="none" stroke="#000" stroke-width="1.50" stroke-linejoin="round" />
<circle cx="348.60" cy="498.67" r="2.05" fill="none" stroke="#f00" stroke-width="1.35"/>
<polygon points="340.92,497.59 342.92,500.29 340.92,502.99 338.92,500.29" fill="none" stroke="#0000ff" stroke-width="1.55"/>
<polygon points="361.12,486.48 363.12,489.18 361.12,491.88 359.12,489.18" fill="none" stroke="#0000ff" stroke-width="1.55"/>
<polygon points="361.12,496.18 363.12,498.88 361.12,501.57 359.12,498.88" fill="none" stroke="#0000ff" stroke-width="1.55"/>
<polygon points="364.35,487.49 366.35,490.19 364.35,492.89 362.35,490.19" fill="none" stroke="#0000ff" stroke-width="1.55"/>
<polygon points="370.00,487.49 372.00,490.19 370.00,492.89 368.00,490.19" fill="none" stroke="#0000ff" stroke-width="1.55"/>
<polyline points="404.77,495.80 406.06,495.54 407.14,494.39 408.31,493.44 410.08,492.14 412.09,491.99 413.91,491.35 416.08,490.89 418.01,490.38 419.84,490.31 421.91,489.86 423.19,489.97 424.64,489.54 425.88,489.59 427.13,489.15 428.48,489.07 429.99,488.54 431.94,488.77 433.86,488.51 435.27,488.61 437.13,488.31 438.05,487.97 439.82,488.40 441.53,486.87 442.83,487.29 444.12,487.57 445.61,487.40 446.70,487.67 448.81,486.94 450.03,487.69 451.12,487.91 452.59,488.49 453.87,488.30 455.62,489.72 457.61,490.33 460.27,491.50 462.12,491.21 464.02,490.60 466.50,489.89 468.19,490.51 469.03,491.33 470.29,492.49 472.37,492.71 473.99,492.77 476.01,492.42 477.32,492.84 478.50,492.71 480.06,493.12 481.74,493.07 483.83,493.69 485.24,493.55 486.71,494.01 488.16,493.91 489.42,494.12 491.01,493.86 492.62,493.68 494.14,492.85 495.68,492.89 497.33,492.41 499.08,492.41 500.60,492.20" fill="none" stroke="#383838" stroke-width="1.15" stroke-linejoin="round" />
<circle cx="414.12" cy="488.58" r="2.05" fill="none" stroke="#f00" stroke-width="1.35"/>
<circle cx="463.59" cy="493.22" r="2.05" fill="none" stroke="#f00" stroke-width="1.35"/>
<polygon points="456.12,486.08 458.12,488.78 456.12,491.48 454.12,488.78" fill="none" stroke="#0000ff" stroke-width="1.55"/>
<polygon points="476.31,479.01 478.31,481.71 476.31,484.41 474.31,481.71" fill="none" stroke="#0000ff" stroke-width="1.55"/>
<polygon points="476.31,491.13 478.31,493.83 476.31,496.53 474.31,493.83" fill="none" stroke="#0000ff" stroke-width="1.55"/>
<polyline points="56.68,579.41 57.87,578.90 59.68,577.98 61.24,578.15 62.86,577.74 64.39,577.92 65.58,577.42 67.26,577.71 68.54,577.47 70.10,577.82 71.52,577.41 73.03,577.67 74.94,577.32 76.03,577.40 77.42,577.09 78.86,577.29 79.93,576.81 81.43,577.01 83.27,576.69 84.93,577.00 86.64,576.31 88.30,576.14 89.94,574.90 91.96,574.36 93.99,574.07 96.09,574.18 97.27,573.93 98.74,574.30 99.90,574.05 101.45,574.45 103.16,574.29 104.67,574.47 105.99,574.12 107.23,574.42 108.70,574.25 110.15,574.49 111.62,574.33 113.31,574.50 114.98,574.23 116.28,574.67 118.02,574.36 119.42,574.74 120.66,574.68 121.89,575.10 123.22,575.09 125.06,575.99 126.66,574.37 127.90,575.37 129.58,575.88 131.25,576.54 132.81,576.59 134.44,577.00 135.86,576.98 137.01,577.42 138.33,577.30 139.94,577.77 141.26,577.71 142.51,578.02 143.79,577.89 145.22,578.39 147.02,578.14 148.42,578.59 150.32,578.43 151.54,578.51 153.13,578.30 154.60,578.30" fill="none" stroke="#000" stroke-width="1.15" stroke-linejoin="round" />
<circle cx="66.52" cy="574.79" r="2.05" fill="none" stroke="#f00" stroke-width="1.35"/>
<circle cx="116.60" cy="567.72" r="2.05" fill="none" stroke="#f00" stroke-width="1.35"/>
<polygon points="109.53,563.41 111.53,566.11 109.53,568.81 107.53,566.11" fill="none" stroke="#0000ff" stroke-width="1.55"/>
<polygon points="130.33,564.01 132.33,566.71 130.33,569.41 128.33,566.71" fill="none" stroke="#0000ff" stroke-width="1.55"/>
<polyline points="172.25,578.41 173.74,578.64 175.05,578.63 176.62,577.60 178.15,577.19 179.67,577.11 180.87,576.80 182.48,576.97 183.79,576.64 185.13,576.79 186.54,576.51 188.04,576.76 189.85,576.43 191.16,576.59 192.33,576.37 193.76,576.49 195.13,576.27 196.55,576.45 198.12,576.05 200.03,576.09 201.32,575.56 202.77,575.53 204.45,574.77 205.92,574.57 207.46,573.88 208.96,573.67 210.95,573.08 212.34,573.73 213.85,574.02 215.63,573.56 217.84,573.54 219.49,573.90 220.55,573.69 222.18,573.91 223.87,573.86 225.38,574.24 226.65,574.10 228.00,574.42 229.41,574.01 230.61,574.16 231.84,573.63 233.30,574.21 234.75,574.13 236.04,574.59 237.14,574.27 238.57,574.44 240.12,574.16 241.15,574.40 242.53,574.05 243.91,574.39 245.38,574.40 246.63,574.93 248.08,574.92 249.28,575.43 250.50,575.52 252.08,576.09 253.35,576.15 254.82,576.75 255.83,576.81 257.26,577.35 258.79,577.44 260.09,577.96 261.42,577.53 262.92,577.67 264.41,577.40 266.14,577.60 267.37,577.31 268.60,577.45 270.20,577.30" fill="none" stroke="#383838" stroke-width="1.15" stroke-linejoin="round" />
<circle cx="182.12" cy="571.76" r="2.05" fill="none" stroke="#f00" stroke-width="1.35"/>
<circle cx="232.60" cy="569.74" r="2.05" fill="none" stroke="#f00" stroke-width="1.35"/>
<polygon points="224.52,567.04 226.52,569.74 224.52,572.44 222.52,569.74" fill="none" stroke="#0000ff" stroke-width="1.55"/>
<polygon points="244.71,567.04 246.71,569.74 244.71,572.44 242.71,569.74" fill="none" stroke="#0000ff" stroke-width="1.55"/>
<polygon points="252.79,570.07 254.79,572.77 252.79,575.47 250.79,572.77" fill="none" stroke="#0000ff" stroke-width="1.55"/>
<polyline points="288.70,580.21 289.38,581.52 290.82,581.25 293.11,581.40 295.07,581.40 296.55,581.59 297.69,578.88 298.44,577.47 299.19,578.40 300.18,579.94 301.85,578.08 304.14,577.09 305.45,575.24 306.56,576.49 307.92,576.53 309.35,576.53 310.80,575.71 313.02,575.35 314.64,575.06 316.14,575.78 317.65,575.21 319.18,575.43 321.47,574.23 322.57,575.19 324.02,575.28 325.82,574.83 327.45,574.76 329.20,575.75 331.02,576.85 332.61,577.78 334.08,577.52 335.32,578.35 336.90,578.46 338.45,578.69 340.14,577.63 342.10,579.34 344.17,577.88 346.34,579.29 347.06,577.77 347.62,576.84 348.51,575.11 349.80,576.21 350.99,576.29 353.13,577.10 354.81,576.32 357.32,575.68 358.53,576.12 359.84,577.22 361.81,575.41 363.41,575.71 364.48,575.28 366.00,575.89 367.56,575.35 368.96,575.61 370.89,575.52 372.32,576.02 373.74,576.40 374.96,577.76 376.58,577.80 378.06,578.74 380.17,578.30 381.66,579.24 382.83,577.85 384.37,579.74 385.80,578.00" fill="none" stroke="#000" stroke-width="1.40" stroke-linejoin="round" />
<circle cx="348.60" cy="580.85" r="2.05" fill="none" stroke="#f00" stroke-width="1.35"/>
<polygon points="340.92,578.55 342.92,581.25 340.92,583.95 338.92,581.25" fill="none" stroke="#0000ff" stroke-width="1.55"/>
<polygon points="361.12,571.48 363.12,574.18 361.12,576.88 359.12,574.18" fill="none" stroke="#0000ff" stroke-width="1.55"/>
<polygon points="361.12,578.15 363.12,580.85 361.12,583.55 359.12,580.85" fill="none" stroke="#0000ff" stroke-width="1.55"/>
<polygon points="364.35,572.49 366.35,575.19 364.35,577.89 362.35,575.19" fill="none" stroke="#0000ff" stroke-width="1.55"/>
<polygon points="370.00,572.49 372.00,575.19 370.00,577.89 368.00,575.19" fill="none" stroke="#0000ff" stroke-width="1.55"/>
<polyline points="404.66,579.32 406.18,579.04 407.63,577.91 410.13,577.38 411.73,577.04 413.16,577.00 414.33,576.79 416.03,577.07 418.09,576.83 420.00,577.15 421.42,576.86 422.74,577.00 423.78,576.63 425.14,576.85 426.88,576.43 428.24,576.55 429.92,576.14 432.07,576.37 433.81,576.02 435.58,576.05 437.40,575.72 438.84,575.26 440.21,574.49 442.03,574.92 443.37,574.83 445.03,575.21 446.49,574.68 448.07,574.71 450.01,574.87 451.37,575.37 453.00,575.33 454.94,575.87 456.74,576.02 458.40,575.89 460.28,575.30 461.64,575.12 463.13,574.46 464.64,574.78 466.42,574.56 467.67,575.45 468.62,575.97 471.12,577.11 473.04,576.20 474.56,575.96 475.80,575.21 477.44,575.70 478.65,575.57 479.78,575.98 481.16,575.91 482.70,576.36 484.07,576.39 485.34,576.80 486.65,576.84 488.53,577.31 490.04,577.32 491.41,577.70 493.12,577.51 494.93,577.82 496.17,577.62 497.83,577.77 499.24,577.54 500.60,577.70" fill="none" stroke="#383838" stroke-width="1.15" stroke-linejoin="round" />
<circle cx="414.12" cy="575.60" r="2.05" fill="none" stroke="#f00" stroke-width="1.35"/>
<circle cx="463.59" cy="578.42" r="2.05" fill="none" stroke="#f00" stroke-width="1.35"/>
<polygon points="456.12,572.49 458.12,575.19 456.12,577.89 454.12,575.19" fill="none" stroke="#0000ff" stroke-width="1.55"/>
<polygon points="476.31,566.03 478.31,568.73 476.31,571.43 474.31,568.73" fill="none" stroke="#0000ff" stroke-width="1.55"/>
<circle cx="297.80" cy="491.30" r="1.2" fill="#000"/>
<circle cx="297.80" cy="491.30" r="2.05" fill="none" stroke="#f00" stroke-width="1.35"/>
<circle cx="298.10" cy="576.80" r="1.2" fill="#000"/>
<circle cx="298.10" cy="576.80" r="2.05" fill="none" stroke="#f00" stroke-width="1.35"/>
<circle cx="298.10" cy="282.60" r="1.2" fill="#000"/>
<circle cx="298.10" cy="282.60" r="2.05" fill="none" stroke="#f00" stroke-width="1.35"/>
<circle cx="348.50" cy="365.90" r="1.2" fill="#000"/>
<circle cx="348.50" cy="365.90" r="2.05" fill="none" stroke="#f00" stroke-width="1.35"/>
<text x="0" y="0" font-size="10.90" text-anchor="middle" fill="#2a2a2a" stroke="#2a2a2a" stroke-width="0.15" word-spacing="-1" transform="translate(37.60 56.67) rotate(-90)">Chl (<tspan dx="1.2" font-style="italic">μ</tspan>g L<tspan dx="1.4" dy="-4.6" font-size="8">-1</tspan><tspan dy="4.6">)</tspan></text>
<text x="0" y="0" font-size="10.90" text-anchor="middle" fill="#2a2a2a" stroke="#2a2a2a" stroke-width="0.15" word-spacing="-1" transform="translate(31.20 140.25) rotate(-90)">NO<tspan dy="3.0" font-size="8">3</tspan><tspan dy="-3.0"> (mg L</tspan><tspan dx="1.4" dy="-4.6" font-size="8">-1</tspan><tspan dy="4.6">)</tspan></text>
<text x="0" y="0" font-size="10.90" text-anchor="middle" fill="#2a2a2a" stroke="#2a2a2a" stroke-width="0.15" word-spacing="-1" transform="translate(37.70 223.82) rotate(-90)">DO (mg L<tspan dx="1.4" dy="-4.6" font-size="8">-1</tspan><tspan dy="4.6">)</tspan></text>
<text x="0" y="0" font-size="10.90" text-anchor="middle" fill="#2a2a2a" stroke="#2a2a2a" stroke-width="0.15" word-spacing="-1" transform="translate(27.00 307.40) rotate(-90)">DIC (<tspan dx="1.2" font-style="italic">μ</tspan>mol kg<tspan dx="1.4" dy="-4.6" font-size="8">-1</tspan><tspan dy="4.6">)</tspan></text>
<text x="0" y="0" font-size="10.90" text-anchor="middle" fill="#2a2a2a" stroke="#2a2a2a" stroke-width="0.15" word-spacing="-1" transform="translate(27.00 390.98) rotate(-90)">TA (<tspan dx="1.2" font-style="italic">μ</tspan>mol kg<tspan dx="1.4" dy="-4.6" font-size="8">-1</tspan><tspan dy="4.6">)</tspan></text>
<text x="0" y="0" font-size="10.90" text-anchor="middle" fill="#2a2a2a" stroke="#2a2a2a" stroke-width="0.15" word-spacing="-1" transform="translate(36.30 474.55) rotate(-90)">pH (total)</text>
<text x="0" y="0" font-size="10.90" text-anchor="middle" fill="#2a2a2a" stroke="#2a2a2a" stroke-width="0.15" word-spacing="-1" transform="translate(37.80 559.12) rotate(-90)"><tspan font-family="Liberation Serif" font-size="11">Ω</tspan><tspan dy="3.9" font-size="8">A</tspan></text>
<rect x="62.5" y="32.8" width="81" height="39.3" fill="#fff" stroke="#555" stroke-width="1"/>
<path d="M65.7 40.6 H96.5" stroke="#000" stroke-width="1.2"/>
<text x="99.10" y="43.80" font-size="9.00" text-anchor="start" font-weight="normal" fill="#2a2a2a" stroke="#2a2a2a" stroke-width="0.15" >Baseline</text>
<polygon points="81.00,50.90 83.30,54.20 78.70,54.20" fill="none" stroke="#3cb0ea" stroke-width="1.25" stroke-linejoin="miter"/>
<text x="99.10" y="55.80" font-size="9.00" text-anchor="start" font-weight="normal" fill="#2a2a2a" stroke="#2a2a2a" stroke-width="0.15" >Obs CTD</text>
<circle cx="81.00" cy="65.10" r="2.05" fill="none" stroke="#f00" stroke-width="1.35"/>
<text x="99.10" y="68.30" font-size="8.90" text-anchor="start" font-weight="normal" fill="#2a2a2a" stroke="#2a2a2a" stroke-width="0.15" >Obs Bottle</text>
<rect x="58.5" y="317.2" width="132.6" height="13.9" fill="#fff" stroke="#555" stroke-width="1"/>
<polygon points="76.90,322.20 78.90,324.90 76.90,327.60 74.90,324.90" fill="none" stroke="#0000ff" stroke-width="1.55"/>
<text x="94.90" y="328.10" font-size="8.80" text-anchor="start" font-weight="normal" fill="#2a2a2a" stroke="#2a2a2a" stroke-width="0.15" >Obs PRISM other years</text>
</svg>
</body></html>
